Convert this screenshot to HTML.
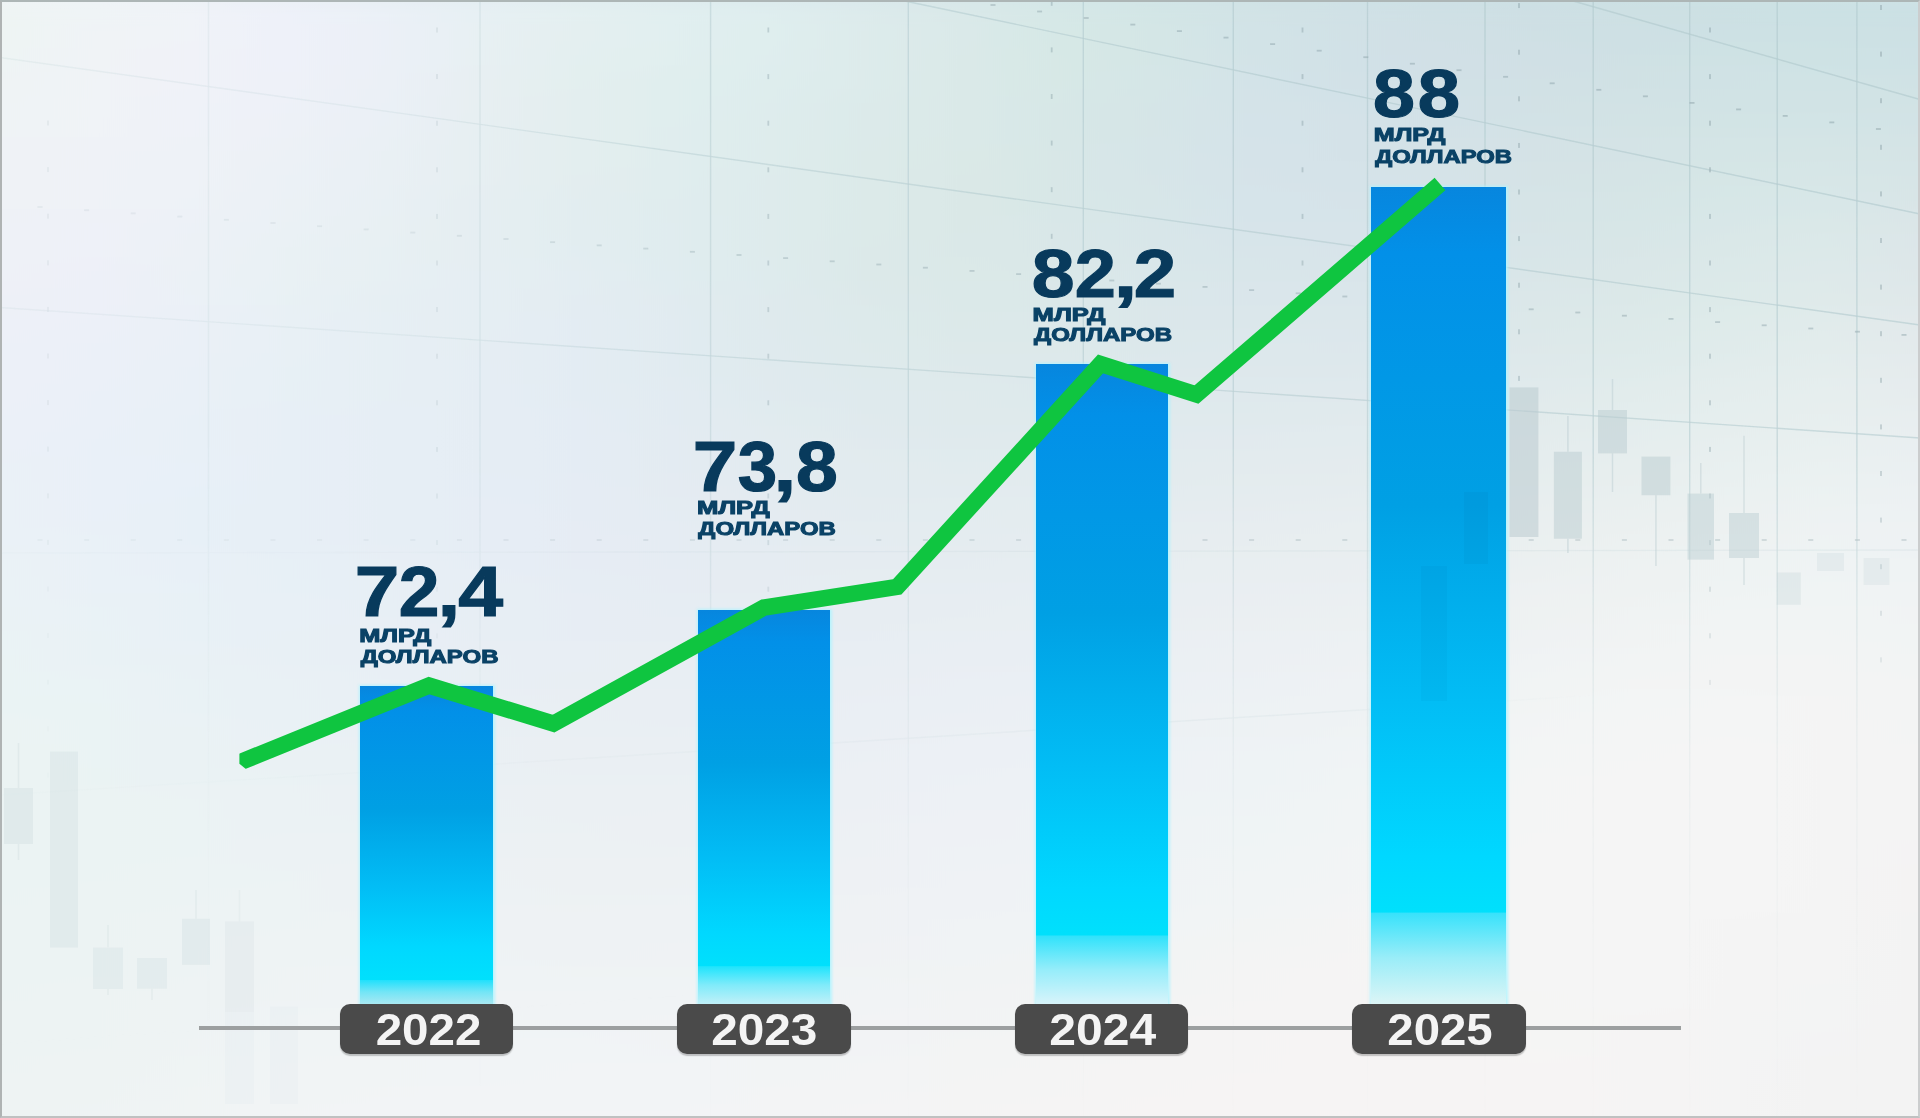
<!DOCTYPE html>
<html><head><meta charset="utf-8"><style>
html,body{margin:0;padding:0;}
body{width:1920px;height:1118px;overflow:hidden;position:relative;font-family:"Liberation Sans",sans-serif;
background:
 radial-gradient(ellipse 1650px 640px at 1520px -50px, rgba(199,223,226,0.98) 0%, rgba(199,223,226,0.55) 45%, rgba(199,223,226,0) 100%),
 radial-gradient(ellipse 650px 420px at 120px 40px, rgba(246,247,251,0.85) 0%, rgba(246,247,251,0) 100%),
 radial-gradient(ellipse 700px 400px at 1800px 1000px, rgba(246,246,246,0.7) 0%, rgba(246,246,246,0) 100%),
 linear-gradient(to bottom, #eef2f7 0%, #e9f0f6 45%, #ecf1f4 72%, #f2f4f5 90%, #f3f4f5 100%);
}
.bar{position:absolute;}
.pill{position:absolute;top:1003.5px;height:50px;background:#4a4a4a;border-radius:10px;box-shadow:0 1.5px 1.2px rgba(0,0,0,0.22);}
svg{position:absolute;left:0;top:0;}
.frame{position:absolute;left:0;top:0;width:1920px;height:1118px;box-sizing:border-box;
border-style:solid;border-width:2px;border-color:#adb6b6 #cbcdce #bfc1c1 #afb3b3;}
</style></head><body>

<svg width="1920" height="1118" viewBox="0 0 1920 1118"><filter id="vb" x="0" y="-0.1" width="1" height="1.2"><feGaussianBlur stdDeviation="0 10"/></filter><g filter="url(#vb)"><defs><linearGradient id="r0" gradientUnits="userSpaceOnUse" x1="0" y1="0" x2="1920" y2="0"><stop offset="0.000" stop-color="#eef4f3"/><stop offset="0.050" stop-color="#eff4f6"/><stop offset="0.100" stop-color="#f0f3f8"/><stop offset="0.150" stop-color="#eef1f9"/><stop offset="0.200" stop-color="#ebf1f7"/><stop offset="0.250" stop-color="#e7f0f4"/><stop offset="0.300" stop-color="#e4f0f1"/><stop offset="0.350" stop-color="#e1eff0"/><stop offset="0.400" stop-color="#dfeeef"/><stop offset="0.450" stop-color="#ddebec"/><stop offset="0.500" stop-color="#dae9e9"/><stop offset="0.550" stop-color="#d6e8e7"/><stop offset="0.600" stop-color="#d3e6e6"/><stop offset="0.650" stop-color="#d2e3e6"/><stop offset="0.700" stop-color="#d0e1e6"/><stop offset="0.750" stop-color="#cfe0e5"/><stop offset="0.800" stop-color="#cedfe4"/><stop offset="0.850" stop-color="#cde0e3"/><stop offset="0.900" stop-color="#cce0e3"/><stop offset="0.950" stop-color="#cbe1e4"/><stop offset="1.000" stop-color="#cbe0e4"/></linearGradient><linearGradient id="r1" gradientUnits="userSpaceOnUse" x1="0" y1="0" x2="1920" y2="0"><stop offset="0.000" stop-color="#eef4f3"/><stop offset="0.050" stop-color="#f0f3f6"/><stop offset="0.100" stop-color="#f0f3f8"/><stop offset="0.150" stop-color="#eef1f9"/><stop offset="0.200" stop-color="#ebf0f7"/><stop offset="0.250" stop-color="#e7f0f3"/><stop offset="0.300" stop-color="#e4eff0"/><stop offset="0.350" stop-color="#e1eff0"/><stop offset="0.400" stop-color="#dfeeee"/><stop offset="0.450" stop-color="#ddebeb"/><stop offset="0.500" stop-color="#dae9e9"/><stop offset="0.550" stop-color="#d6e8e6"/><stop offset="0.600" stop-color="#d4e6e6"/><stop offset="0.650" stop-color="#d2e3e7"/><stop offset="0.700" stop-color="#d1e1e6"/><stop offset="0.750" stop-color="#d0e0e5"/><stop offset="0.800" stop-color="#cfe0e4"/><stop offset="0.850" stop-color="#cee0e4"/><stop offset="0.900" stop-color="#cde1e4"/><stop offset="0.950" stop-color="#cde1e4"/><stop offset="1.000" stop-color="#cde1e4"/></linearGradient><linearGradient id="r2" gradientUnits="userSpaceOnUse" x1="0" y1="0" x2="1920" y2="0"><stop offset="0.000" stop-color="#eef4f4"/><stop offset="0.050" stop-color="#f0f3f6"/><stop offset="0.100" stop-color="#f0f2f8"/><stop offset="0.150" stop-color="#eef1f9"/><stop offset="0.200" stop-color="#ebf0f7"/><stop offset="0.250" stop-color="#e7f0f3"/><stop offset="0.300" stop-color="#e3eff0"/><stop offset="0.350" stop-color="#e1efef"/><stop offset="0.400" stop-color="#dfedee"/><stop offset="0.450" stop-color="#ddebeb"/><stop offset="0.500" stop-color="#dae9e8"/><stop offset="0.550" stop-color="#d7e8e6"/><stop offset="0.600" stop-color="#d4e6e6"/><stop offset="0.650" stop-color="#d3e3e7"/><stop offset="0.700" stop-color="#d1e1e7"/><stop offset="0.750" stop-color="#d1e0e6"/><stop offset="0.800" stop-color="#d0e0e5"/><stop offset="0.850" stop-color="#cfe1e4"/><stop offset="0.900" stop-color="#cfe2e4"/><stop offset="0.950" stop-color="#cee2e4"/><stop offset="1.000" stop-color="#cee1e5"/></linearGradient><linearGradient id="r3" gradientUnits="userSpaceOnUse" x1="0" y1="0" x2="1920" y2="0"><stop offset="0.000" stop-color="#eff3f4"/><stop offset="0.050" stop-color="#f0f3f7"/><stop offset="0.100" stop-color="#f0f2f8"/><stop offset="0.150" stop-color="#eef1f8"/><stop offset="0.200" stop-color="#ebf0f6"/><stop offset="0.250" stop-color="#e7eff2"/><stop offset="0.300" stop-color="#e3efef"/><stop offset="0.350" stop-color="#e0eeee"/><stop offset="0.400" stop-color="#deeded"/><stop offset="0.450" stop-color="#ddebeb"/><stop offset="0.500" stop-color="#dae9e8"/><stop offset="0.550" stop-color="#d7e8e6"/><stop offset="0.600" stop-color="#d5e6e7"/><stop offset="0.650" stop-color="#d3e3e8"/><stop offset="0.700" stop-color="#d2e1e7"/><stop offset="0.750" stop-color="#d1e1e6"/><stop offset="0.800" stop-color="#d1e1e5"/><stop offset="0.850" stop-color="#d0e1e4"/><stop offset="0.900" stop-color="#d0e2e5"/><stop offset="0.950" stop-color="#d0e3e5"/><stop offset="1.000" stop-color="#d0e2e5"/></linearGradient><linearGradient id="r4" gradientUnits="userSpaceOnUse" x1="0" y1="0" x2="1920" y2="0"><stop offset="0.000" stop-color="#eff3f5"/><stop offset="0.050" stop-color="#f0f3f7"/><stop offset="0.100" stop-color="#eff2f8"/><stop offset="0.150" stop-color="#edf1f8"/><stop offset="0.200" stop-color="#eaf0f6"/><stop offset="0.250" stop-color="#e7eff2"/><stop offset="0.300" stop-color="#e3eeef"/><stop offset="0.350" stop-color="#e0eeee"/><stop offset="0.400" stop-color="#deeced"/><stop offset="0.450" stop-color="#dceaea"/><stop offset="0.500" stop-color="#dae9e8"/><stop offset="0.550" stop-color="#d7e7e7"/><stop offset="0.600" stop-color="#d5e5e7"/><stop offset="0.650" stop-color="#d4e3e8"/><stop offset="0.700" stop-color="#d3e2e8"/><stop offset="0.750" stop-color="#d2e1e7"/><stop offset="0.800" stop-color="#d2e1e5"/><stop offset="0.850" stop-color="#d2e2e5"/><stop offset="0.900" stop-color="#d1e3e5"/><stop offset="0.950" stop-color="#d1e3e5"/><stop offset="1.000" stop-color="#d2e3e5"/></linearGradient><linearGradient id="r5" gradientUnits="userSpaceOnUse" x1="0" y1="0" x2="1920" y2="0"><stop offset="0.000" stop-color="#eff3f5"/><stop offset="0.050" stop-color="#f0f3f7"/><stop offset="0.100" stop-color="#eff2f8"/><stop offset="0.150" stop-color="#edf1f7"/><stop offset="0.200" stop-color="#eaf0f5"/><stop offset="0.250" stop-color="#e6eff2"/><stop offset="0.300" stop-color="#e3eeef"/><stop offset="0.350" stop-color="#e0edee"/><stop offset="0.400" stop-color="#deecec"/><stop offset="0.450" stop-color="#dceaea"/><stop offset="0.500" stop-color="#dae9e8"/><stop offset="0.550" stop-color="#d7e7e7"/><stop offset="0.600" stop-color="#d6e5e7"/><stop offset="0.650" stop-color="#d4e3e9"/><stop offset="0.700" stop-color="#d4e2e8"/><stop offset="0.750" stop-color="#d3e1e7"/><stop offset="0.800" stop-color="#d3e2e6"/><stop offset="0.850" stop-color="#d3e3e5"/><stop offset="0.900" stop-color="#d3e4e5"/><stop offset="0.950" stop-color="#d3e4e6"/><stop offset="1.000" stop-color="#d3e3e6"/></linearGradient><linearGradient id="r6" gradientUnits="userSpaceOnUse" x1="0" y1="0" x2="1920" y2="0"><stop offset="0.000" stop-color="#eff2f6"/><stop offset="0.050" stop-color="#eff2f7"/><stop offset="0.100" stop-color="#eef2f7"/><stop offset="0.150" stop-color="#ecf1f6"/><stop offset="0.200" stop-color="#e9f0f4"/><stop offset="0.250" stop-color="#e6eff2"/><stop offset="0.300" stop-color="#e3eeef"/><stop offset="0.350" stop-color="#e0edee"/><stop offset="0.400" stop-color="#deecec"/><stop offset="0.450" stop-color="#dceae9"/><stop offset="0.500" stop-color="#dae9e7"/><stop offset="0.550" stop-color="#d8e7e7"/><stop offset="0.600" stop-color="#d6e5e8"/><stop offset="0.650" stop-color="#d5e3e9"/><stop offset="0.700" stop-color="#d4e2e8"/><stop offset="0.750" stop-color="#d4e2e7"/><stop offset="0.800" stop-color="#d4e2e6"/><stop offset="0.850" stop-color="#d4e3e6"/><stop offset="0.900" stop-color="#d4e5e6"/><stop offset="0.950" stop-color="#d5e5e6"/><stop offset="1.000" stop-color="#d5e4e6"/></linearGradient><linearGradient id="r7" gradientUnits="userSpaceOnUse" x1="0" y1="0" x2="1920" y2="0"><stop offset="0.000" stop-color="#eff2f6"/><stop offset="0.050" stop-color="#eff2f7"/><stop offset="0.100" stop-color="#eef2f7"/><stop offset="0.150" stop-color="#ebf1f6"/><stop offset="0.200" stop-color="#e9f0f4"/><stop offset="0.250" stop-color="#e6eff2"/><stop offset="0.300" stop-color="#e3edef"/><stop offset="0.350" stop-color="#e0edee"/><stop offset="0.400" stop-color="#deebec"/><stop offset="0.450" stop-color="#dceae9"/><stop offset="0.500" stop-color="#dae8e7"/><stop offset="0.550" stop-color="#d8e7e7"/><stop offset="0.600" stop-color="#d7e5e8"/><stop offset="0.650" stop-color="#d6e3e9"/><stop offset="0.700" stop-color="#d5e3e9"/><stop offset="0.750" stop-color="#d5e3e8"/><stop offset="0.800" stop-color="#d5e3e6"/><stop offset="0.850" stop-color="#d5e4e6"/><stop offset="0.900" stop-color="#d6e6e6"/><stop offset="0.950" stop-color="#d7e6e7"/><stop offset="1.000" stop-color="#d7e5e7"/></linearGradient><linearGradient id="r8" gradientUnits="userSpaceOnUse" x1="0" y1="0" x2="1920" y2="0"><stop offset="0.000" stop-color="#eff2f6"/><stop offset="0.050" stop-color="#eff2f7"/><stop offset="0.100" stop-color="#edf2f7"/><stop offset="0.150" stop-color="#ebf1f5"/><stop offset="0.200" stop-color="#e8f0f4"/><stop offset="0.250" stop-color="#e5eef2"/><stop offset="0.300" stop-color="#e2edf0"/><stop offset="0.350" stop-color="#e0ecee"/><stop offset="0.400" stop-color="#deebec"/><stop offset="0.450" stop-color="#dceae9"/><stop offset="0.500" stop-color="#dae8e7"/><stop offset="0.550" stop-color="#d8e7e7"/><stop offset="0.600" stop-color="#d7e6e8"/><stop offset="0.650" stop-color="#d6e4ea"/><stop offset="0.700" stop-color="#d6e3e9"/><stop offset="0.750" stop-color="#d6e3e8"/><stop offset="0.800" stop-color="#d6e4e7"/><stop offset="0.850" stop-color="#d6e5e6"/><stop offset="0.900" stop-color="#d7e7e7"/><stop offset="0.950" stop-color="#d8e7e8"/><stop offset="1.000" stop-color="#d9e5e7"/></linearGradient><linearGradient id="r9" gradientUnits="userSpaceOnUse" x1="0" y1="0" x2="1920" y2="0"><stop offset="0.000" stop-color="#eef1f7"/><stop offset="0.050" stop-color="#eef1f8"/><stop offset="0.100" stop-color="#ecf1f7"/><stop offset="0.150" stop-color="#eaf1f5"/><stop offset="0.200" stop-color="#e8f0f3"/><stop offset="0.250" stop-color="#e5eef2"/><stop offset="0.300" stop-color="#e2edf0"/><stop offset="0.350" stop-color="#e0ecef"/><stop offset="0.400" stop-color="#deebec"/><stop offset="0.450" stop-color="#dceae9"/><stop offset="0.500" stop-color="#dae8e7"/><stop offset="0.550" stop-color="#d9e7e8"/><stop offset="0.600" stop-color="#d8e6e9"/><stop offset="0.650" stop-color="#d7e4ea"/><stop offset="0.700" stop-color="#d7e4ea"/><stop offset="0.750" stop-color="#d7e4e8"/><stop offset="0.800" stop-color="#d7e4e7"/><stop offset="0.850" stop-color="#d7e6e7"/><stop offset="0.900" stop-color="#d9e7e8"/><stop offset="0.950" stop-color="#dae8e8"/><stop offset="1.000" stop-color="#dbe6e8"/></linearGradient><linearGradient id="r10" gradientUnits="userSpaceOnUse" x1="0" y1="0" x2="1920" y2="0"><stop offset="0.000" stop-color="#eef1f7"/><stop offset="0.050" stop-color="#eef1f8"/><stop offset="0.100" stop-color="#ecf1f6"/><stop offset="0.150" stop-color="#e9f1f4"/><stop offset="0.200" stop-color="#e7f0f3"/><stop offset="0.250" stop-color="#e5eef2"/><stop offset="0.300" stop-color="#e2edf1"/><stop offset="0.350" stop-color="#e0ecef"/><stop offset="0.400" stop-color="#deebec"/><stop offset="0.450" stop-color="#dce9e9"/><stop offset="0.500" stop-color="#dae8e8"/><stop offset="0.550" stop-color="#d9e7e8"/><stop offset="0.600" stop-color="#d9e6e9"/><stop offset="0.650" stop-color="#d8e5ea"/><stop offset="0.700" stop-color="#d8e4ea"/><stop offset="0.750" stop-color="#d8e5e9"/><stop offset="0.800" stop-color="#d8e5e8"/><stop offset="0.850" stop-color="#d9e6e7"/><stop offset="0.900" stop-color="#dae8e8"/><stop offset="0.950" stop-color="#dce9e9"/><stop offset="1.000" stop-color="#dde6e9"/></linearGradient><linearGradient id="r11" gradientUnits="userSpaceOnUse" x1="0" y1="0" x2="1920" y2="0"><stop offset="0.000" stop-color="#eef1f7"/><stop offset="0.050" stop-color="#edf0f8"/><stop offset="0.100" stop-color="#ebf1f6"/><stop offset="0.150" stop-color="#e9f1f4"/><stop offset="0.200" stop-color="#e7f0f3"/><stop offset="0.250" stop-color="#e5eef3"/><stop offset="0.300" stop-color="#e3edf2"/><stop offset="0.350" stop-color="#e0ecf0"/><stop offset="0.400" stop-color="#deebed"/><stop offset="0.450" stop-color="#dce9e9"/><stop offset="0.500" stop-color="#dbe9e8"/><stop offset="0.550" stop-color="#dae8e8"/><stop offset="0.600" stop-color="#d9e7ea"/><stop offset="0.650" stop-color="#d9e6ea"/><stop offset="0.700" stop-color="#d9e5ea"/><stop offset="0.750" stop-color="#d9e5e9"/><stop offset="0.800" stop-color="#d9e6e8"/><stop offset="0.850" stop-color="#dae7e8"/><stop offset="0.900" stop-color="#dce9e9"/><stop offset="0.950" stop-color="#dee9ea"/><stop offset="1.000" stop-color="#dee7e9"/></linearGradient><linearGradient id="r12" gradientUnits="userSpaceOnUse" x1="0" y1="0" x2="1920" y2="0"><stop offset="0.000" stop-color="#edf0f7"/><stop offset="0.050" stop-color="#edf0f8"/><stop offset="0.100" stop-color="#ebf1f7"/><stop offset="0.150" stop-color="#e8f1f4"/><stop offset="0.200" stop-color="#e6eff3"/><stop offset="0.250" stop-color="#e5eef3"/><stop offset="0.300" stop-color="#e3ecf2"/><stop offset="0.350" stop-color="#e1ebf0"/><stop offset="0.400" stop-color="#dfeaed"/><stop offset="0.450" stop-color="#dde9ea"/><stop offset="0.500" stop-color="#dbe9e9"/><stop offset="0.550" stop-color="#dbe8e9"/><stop offset="0.600" stop-color="#dae7ea"/><stop offset="0.650" stop-color="#dae6eb"/><stop offset="0.700" stop-color="#dae6eb"/><stop offset="0.750" stop-color="#dbe6ea"/><stop offset="0.800" stop-color="#dbe7e9"/><stop offset="0.850" stop-color="#dbe8e8"/><stop offset="0.900" stop-color="#ddeae9"/><stop offset="0.950" stop-color="#dfeaea"/><stop offset="1.000" stop-color="#e0e8ea"/></linearGradient><linearGradient id="r13" gradientUnits="userSpaceOnUse" x1="0" y1="0" x2="1920" y2="0"><stop offset="0.000" stop-color="#edf0f8"/><stop offset="0.050" stop-color="#ecf0f8"/><stop offset="0.100" stop-color="#eaf0f7"/><stop offset="0.150" stop-color="#e8f0f5"/><stop offset="0.200" stop-color="#e6eff4"/><stop offset="0.250" stop-color="#e5eef3"/><stop offset="0.300" stop-color="#e3ecf3"/><stop offset="0.350" stop-color="#e1ebf1"/><stop offset="0.400" stop-color="#dfeaed"/><stop offset="0.450" stop-color="#ddeaeb"/><stop offset="0.500" stop-color="#dce9e9"/><stop offset="0.550" stop-color="#dce8ea"/><stop offset="0.600" stop-color="#dbe7ea"/><stop offset="0.650" stop-color="#dbe7eb"/><stop offset="0.700" stop-color="#dce7eb"/><stop offset="0.750" stop-color="#dce7ea"/><stop offset="0.800" stop-color="#dce8e9"/><stop offset="0.850" stop-color="#dde9e9"/><stop offset="0.900" stop-color="#dfebea"/><stop offset="0.950" stop-color="#e1ebeb"/><stop offset="1.000" stop-color="#e2e9eb"/></linearGradient><linearGradient id="r14" gradientUnits="userSpaceOnUse" x1="0" y1="0" x2="1920" y2="0"><stop offset="0.000" stop-color="#ecf0f8"/><stop offset="0.050" stop-color="#ebf0f8"/><stop offset="0.100" stop-color="#eaf0f7"/><stop offset="0.150" stop-color="#e8f0f5"/><stop offset="0.200" stop-color="#e6eff4"/><stop offset="0.250" stop-color="#e5edf3"/><stop offset="0.300" stop-color="#e3ecf3"/><stop offset="0.350" stop-color="#e1ebf1"/><stop offset="0.400" stop-color="#dfeaee"/><stop offset="0.450" stop-color="#deeaeb"/><stop offset="0.500" stop-color="#dde9ea"/><stop offset="0.550" stop-color="#dde9ea"/><stop offset="0.600" stop-color="#dce8eb"/><stop offset="0.650" stop-color="#dde8ec"/><stop offset="0.700" stop-color="#dde7ec"/><stop offset="0.750" stop-color="#dde8eb"/><stop offset="0.800" stop-color="#dee8ea"/><stop offset="0.850" stop-color="#deeaea"/><stop offset="0.900" stop-color="#e0ebeb"/><stop offset="0.950" stop-color="#e2ecec"/><stop offset="1.000" stop-color="#e3eaec"/></linearGradient><linearGradient id="r15" gradientUnits="userSpaceOnUse" x1="0" y1="0" x2="1920" y2="0"><stop offset="0.000" stop-color="#ecf0f8"/><stop offset="0.050" stop-color="#ebf0f8"/><stop offset="0.100" stop-color="#e9f0f7"/><stop offset="0.150" stop-color="#e7f0f5"/><stop offset="0.200" stop-color="#e6eff4"/><stop offset="0.250" stop-color="#e5edf4"/><stop offset="0.300" stop-color="#e3ecf3"/><stop offset="0.350" stop-color="#e1ebf1"/><stop offset="0.400" stop-color="#e0eaee"/><stop offset="0.450" stop-color="#deeaec"/><stop offset="0.500" stop-color="#dee9eb"/><stop offset="0.550" stop-color="#dde9eb"/><stop offset="0.600" stop-color="#dee8ec"/><stop offset="0.650" stop-color="#dee8ec"/><stop offset="0.700" stop-color="#dee8ec"/><stop offset="0.750" stop-color="#dfe9ec"/><stop offset="0.800" stop-color="#dfe9eb"/><stop offset="0.850" stop-color="#e0ebeb"/><stop offset="0.900" stop-color="#e2ecec"/><stop offset="0.950" stop-color="#e4eded"/><stop offset="1.000" stop-color="#e5ebed"/></linearGradient><linearGradient id="r16" gradientUnits="userSpaceOnUse" x1="0" y1="0" x2="1920" y2="0"><stop offset="0.000" stop-color="#ecf0f8"/><stop offset="0.050" stop-color="#eaf0f8"/><stop offset="0.100" stop-color="#e9f0f7"/><stop offset="0.150" stop-color="#e7f0f5"/><stop offset="0.200" stop-color="#e6eff4"/><stop offset="0.250" stop-color="#e5edf4"/><stop offset="0.300" stop-color="#e3ecf3"/><stop offset="0.350" stop-color="#e2ebf2"/><stop offset="0.400" stop-color="#e0eaef"/><stop offset="0.450" stop-color="#dfeaed"/><stop offset="0.500" stop-color="#dfeaec"/><stop offset="0.550" stop-color="#dee9ec"/><stop offset="0.600" stop-color="#dfe9ec"/><stop offset="0.650" stop-color="#dfe9ed"/><stop offset="0.700" stop-color="#e0e9ed"/><stop offset="0.750" stop-color="#e0e9ec"/><stop offset="0.800" stop-color="#e1eaec"/><stop offset="0.850" stop-color="#e2ecec"/><stop offset="0.900" stop-color="#e4eded"/><stop offset="0.950" stop-color="#e6eeee"/><stop offset="1.000" stop-color="#e6ecee"/></linearGradient><linearGradient id="r17" gradientUnits="userSpaceOnUse" x1="0" y1="0" x2="1920" y2="0"><stop offset="0.000" stop-color="#ebf0f8"/><stop offset="0.050" stop-color="#eaf0f8"/><stop offset="0.100" stop-color="#e8f0f7"/><stop offset="0.150" stop-color="#e7eff6"/><stop offset="0.200" stop-color="#e6eef5"/><stop offset="0.250" stop-color="#e5edf4"/><stop offset="0.300" stop-color="#e4ecf4"/><stop offset="0.350" stop-color="#e2ebf2"/><stop offset="0.400" stop-color="#e1ebef"/><stop offset="0.450" stop-color="#e0eaed"/><stop offset="0.500" stop-color="#dfeaec"/><stop offset="0.550" stop-color="#dfeaec"/><stop offset="0.600" stop-color="#e0eaed"/><stop offset="0.650" stop-color="#e0eaed"/><stop offset="0.700" stop-color="#e1eaed"/><stop offset="0.750" stop-color="#e2eaed"/><stop offset="0.800" stop-color="#e2ebec"/><stop offset="0.850" stop-color="#e3eded"/><stop offset="0.900" stop-color="#e5eeee"/><stop offset="0.950" stop-color="#e7efef"/><stop offset="1.000" stop-color="#e8eef0"/></linearGradient><linearGradient id="r18" gradientUnits="userSpaceOnUse" x1="0" y1="0" x2="1920" y2="0"><stop offset="0.000" stop-color="#ebf0f8"/><stop offset="0.050" stop-color="#e9f0f8"/><stop offset="0.100" stop-color="#e8f0f7"/><stop offset="0.150" stop-color="#e7eff6"/><stop offset="0.200" stop-color="#e6eef5"/><stop offset="0.250" stop-color="#e5edf4"/><stop offset="0.300" stop-color="#e4ecf4"/><stop offset="0.350" stop-color="#e3ebf2"/><stop offset="0.400" stop-color="#e2ebf0"/><stop offset="0.450" stop-color="#e1eaee"/><stop offset="0.500" stop-color="#e0eaed"/><stop offset="0.550" stop-color="#e1eaed"/><stop offset="0.600" stop-color="#e1eaee"/><stop offset="0.650" stop-color="#e2eaee"/><stop offset="0.700" stop-color="#e2ebee"/><stop offset="0.750" stop-color="#e3ebee"/><stop offset="0.800" stop-color="#e4eced"/><stop offset="0.850" stop-color="#e5edee"/><stop offset="0.900" stop-color="#e7efef"/><stop offset="0.950" stop-color="#e8f0f0"/><stop offset="1.000" stop-color="#e9eff1"/></linearGradient><linearGradient id="r19" gradientUnits="userSpaceOnUse" x1="0" y1="0" x2="1920" y2="0"><stop offset="0.000" stop-color="#eaf1f7"/><stop offset="0.050" stop-color="#e9f0f8"/><stop offset="0.100" stop-color="#e8f0f8"/><stop offset="0.150" stop-color="#e7eff6"/><stop offset="0.200" stop-color="#e6eef5"/><stop offset="0.250" stop-color="#e5edf4"/><stop offset="0.300" stop-color="#e4ecf4"/><stop offset="0.350" stop-color="#e3ebf2"/><stop offset="0.400" stop-color="#e2ebf0"/><stop offset="0.450" stop-color="#e2ebef"/><stop offset="0.500" stop-color="#e1ebee"/><stop offset="0.550" stop-color="#e2ebee"/><stop offset="0.600" stop-color="#e2ebee"/><stop offset="0.650" stop-color="#e3ebee"/><stop offset="0.700" stop-color="#e4ebee"/><stop offset="0.750" stop-color="#e5ecee"/><stop offset="0.800" stop-color="#e5edee"/><stop offset="0.850" stop-color="#e7eeee"/><stop offset="0.900" stop-color="#e8f0f0"/><stop offset="0.950" stop-color="#eaf1f1"/><stop offset="1.000" stop-color="#eaf0f2"/></linearGradient><linearGradient id="r20" gradientUnits="userSpaceOnUse" x1="0" y1="0" x2="1920" y2="0"><stop offset="0.000" stop-color="#eaf1f7"/><stop offset="0.050" stop-color="#e9f0f8"/><stop offset="0.100" stop-color="#e7f0f8"/><stop offset="0.150" stop-color="#e7eff6"/><stop offset="0.200" stop-color="#e6eef5"/><stop offset="0.250" stop-color="#e5edf5"/><stop offset="0.300" stop-color="#e5ecf4"/><stop offset="0.350" stop-color="#e4ebf2"/><stop offset="0.400" stop-color="#e3ebf1"/><stop offset="0.450" stop-color="#e2ebef"/><stop offset="0.500" stop-color="#e2ebef"/><stop offset="0.550" stop-color="#e3ebef"/><stop offset="0.600" stop-color="#e3ebef"/><stop offset="0.650" stop-color="#e4ecef"/><stop offset="0.700" stop-color="#e5ecef"/><stop offset="0.750" stop-color="#e6edef"/><stop offset="0.800" stop-color="#e7eeef"/><stop offset="0.850" stop-color="#e8efef"/><stop offset="0.900" stop-color="#eaf1f1"/><stop offset="0.950" stop-color="#ebf2f2"/><stop offset="1.000" stop-color="#ecf1f3"/></linearGradient><linearGradient id="r21" gradientUnits="userSpaceOnUse" x1="0" y1="0" x2="1920" y2="0"><stop offset="0.000" stop-color="#eaf1f7"/><stop offset="0.050" stop-color="#e9f0f8"/><stop offset="0.100" stop-color="#e7f0f7"/><stop offset="0.150" stop-color="#e7eff6"/><stop offset="0.200" stop-color="#e6eef5"/><stop offset="0.250" stop-color="#e6edf5"/><stop offset="0.300" stop-color="#e5ecf4"/><stop offset="0.350" stop-color="#e4ecf3"/><stop offset="0.400" stop-color="#e4ebf1"/><stop offset="0.450" stop-color="#e3ebf0"/><stop offset="0.500" stop-color="#e3ecf0"/><stop offset="0.550" stop-color="#e4ecef"/><stop offset="0.600" stop-color="#e5ecf0"/><stop offset="0.650" stop-color="#e6ecf0"/><stop offset="0.700" stop-color="#e7edf0"/><stop offset="0.750" stop-color="#e7eef0"/><stop offset="0.800" stop-color="#e9eff0"/><stop offset="0.850" stop-color="#eaf0f0"/><stop offset="0.900" stop-color="#ecf1f1"/><stop offset="0.950" stop-color="#edf2f3"/><stop offset="1.000" stop-color="#edf2f3"/></linearGradient><linearGradient id="r22" gradientUnits="userSpaceOnUse" x1="0" y1="0" x2="1920" y2="0"><stop offset="0.000" stop-color="#eaf1f7"/><stop offset="0.050" stop-color="#e9f1f7"/><stop offset="0.100" stop-color="#e7f0f7"/><stop offset="0.150" stop-color="#e7eff6"/><stop offset="0.200" stop-color="#e6eef5"/><stop offset="0.250" stop-color="#e6edf5"/><stop offset="0.300" stop-color="#e6ecf4"/><stop offset="0.350" stop-color="#e5ecf3"/><stop offset="0.400" stop-color="#e4ecf2"/><stop offset="0.450" stop-color="#e4ecf1"/><stop offset="0.500" stop-color="#e4ecf0"/><stop offset="0.550" stop-color="#e5ecf0"/><stop offset="0.600" stop-color="#e6edf0"/><stop offset="0.650" stop-color="#e7edf0"/><stop offset="0.700" stop-color="#e8eef0"/><stop offset="0.750" stop-color="#e9eff0"/><stop offset="0.800" stop-color="#eaf0f0"/><stop offset="0.850" stop-color="#ecf1f1"/><stop offset="0.900" stop-color="#edf2f2"/><stop offset="0.950" stop-color="#eef3f3"/><stop offset="1.000" stop-color="#eef2f4"/></linearGradient><linearGradient id="r23" gradientUnits="userSpaceOnUse" x1="0" y1="0" x2="1920" y2="0"><stop offset="0.000" stop-color="#eaf2f6"/><stop offset="0.050" stop-color="#e9f1f7"/><stop offset="0.100" stop-color="#e8f0f7"/><stop offset="0.150" stop-color="#e7f0f6"/><stop offset="0.200" stop-color="#e7eff5"/><stop offset="0.250" stop-color="#e6edf5"/><stop offset="0.300" stop-color="#e6ecf4"/><stop offset="0.350" stop-color="#e5ecf3"/><stop offset="0.400" stop-color="#e5ecf2"/><stop offset="0.450" stop-color="#e5ecf1"/><stop offset="0.500" stop-color="#e5ecf1"/><stop offset="0.550" stop-color="#e6edf1"/><stop offset="0.600" stop-color="#e7edf1"/><stop offset="0.650" stop-color="#e8eef1"/><stop offset="0.700" stop-color="#e9eef1"/><stop offset="0.750" stop-color="#eaeff1"/><stop offset="0.800" stop-color="#ebf0f1"/><stop offset="0.850" stop-color="#edf2f2"/><stop offset="0.900" stop-color="#eef3f3"/><stop offset="0.950" stop-color="#eff3f4"/><stop offset="1.000" stop-color="#eff3f4"/></linearGradient><linearGradient id="r24" gradientUnits="userSpaceOnUse" x1="0" y1="0" x2="1920" y2="0"><stop offset="0.000" stop-color="#eaf2f6"/><stop offset="0.050" stop-color="#e9f1f7"/><stop offset="0.100" stop-color="#e8f1f7"/><stop offset="0.150" stop-color="#e7f0f6"/><stop offset="0.200" stop-color="#e7eff5"/><stop offset="0.250" stop-color="#e7eef4"/><stop offset="0.300" stop-color="#e6edf4"/><stop offset="0.350" stop-color="#e6ecf3"/><stop offset="0.400" stop-color="#e6ecf2"/><stop offset="0.450" stop-color="#e6edf2"/><stop offset="0.500" stop-color="#e6edf2"/><stop offset="0.550" stop-color="#e7edf2"/><stop offset="0.600" stop-color="#e8eef2"/><stop offset="0.650" stop-color="#e9eef2"/><stop offset="0.700" stop-color="#eaeff2"/><stop offset="0.750" stop-color="#ebf0f2"/><stop offset="0.800" stop-color="#edf1f2"/><stop offset="0.850" stop-color="#eef2f2"/><stop offset="0.900" stop-color="#eff3f3"/><stop offset="0.950" stop-color="#f0f4f4"/><stop offset="1.000" stop-color="#f0f3f4"/></linearGradient><linearGradient id="r25" gradientUnits="userSpaceOnUse" x1="0" y1="0" x2="1920" y2="0"><stop offset="0.000" stop-color="#eaf2f5"/><stop offset="0.050" stop-color="#e9f2f6"/><stop offset="0.100" stop-color="#e8f1f6"/><stop offset="0.150" stop-color="#e8f0f6"/><stop offset="0.200" stop-color="#e7eff5"/><stop offset="0.250" stop-color="#e7eef4"/><stop offset="0.300" stop-color="#e7edf4"/><stop offset="0.350" stop-color="#e6edf3"/><stop offset="0.400" stop-color="#e6edf3"/><stop offset="0.450" stop-color="#e7edf2"/><stop offset="0.500" stop-color="#e7edf2"/><stop offset="0.550" stop-color="#e8eef2"/><stop offset="0.600" stop-color="#e9eef2"/><stop offset="0.650" stop-color="#eaeff2"/><stop offset="0.700" stop-color="#ebf0f2"/><stop offset="0.750" stop-color="#edf1f2"/><stop offset="0.800" stop-color="#eef2f2"/><stop offset="0.850" stop-color="#f0f3f3"/><stop offset="0.900" stop-color="#f1f4f4"/><stop offset="0.950" stop-color="#f1f4f4"/><stop offset="1.000" stop-color="#f1f3f4"/></linearGradient><linearGradient id="r26" gradientUnits="userSpaceOnUse" x1="0" y1="0" x2="1920" y2="0"><stop offset="0.000" stop-color="#eaf3f5"/><stop offset="0.050" stop-color="#e9f2f5"/><stop offset="0.100" stop-color="#e8f1f6"/><stop offset="0.150" stop-color="#e8f0f5"/><stop offset="0.200" stop-color="#e8eff5"/><stop offset="0.250" stop-color="#e7eef4"/><stop offset="0.300" stop-color="#e7edf4"/><stop offset="0.350" stop-color="#e7edf3"/><stop offset="0.400" stop-color="#e7edf3"/><stop offset="0.450" stop-color="#e7edf3"/><stop offset="0.500" stop-color="#e8eef3"/><stop offset="0.550" stop-color="#e9eef3"/><stop offset="0.600" stop-color="#eaeff3"/><stop offset="0.650" stop-color="#ebf0f3"/><stop offset="0.700" stop-color="#ecf1f3"/><stop offset="0.750" stop-color="#eef1f3"/><stop offset="0.800" stop-color="#eff2f3"/><stop offset="0.850" stop-color="#f1f3f3"/><stop offset="0.900" stop-color="#f2f4f4"/><stop offset="0.950" stop-color="#f2f4f4"/><stop offset="1.000" stop-color="#f1f4f4"/></linearGradient><linearGradient id="r27" gradientUnits="userSpaceOnUse" x1="0" y1="0" x2="1920" y2="0"><stop offset="0.000" stop-color="#eaf3f4"/><stop offset="0.050" stop-color="#e9f2f5"/><stop offset="0.100" stop-color="#e9f1f5"/><stop offset="0.150" stop-color="#e8f0f5"/><stop offset="0.200" stop-color="#e8eff5"/><stop offset="0.250" stop-color="#e8eff4"/><stop offset="0.300" stop-color="#e8eef4"/><stop offset="0.350" stop-color="#e8eef3"/><stop offset="0.400" stop-color="#e8eef3"/><stop offset="0.450" stop-color="#e8eef3"/><stop offset="0.500" stop-color="#e9eef3"/><stop offset="0.550" stop-color="#e9eff3"/><stop offset="0.600" stop-color="#eaf0f3"/><stop offset="0.650" stop-color="#ecf0f3"/><stop offset="0.700" stop-color="#edf1f3"/><stop offset="0.750" stop-color="#eff2f3"/><stop offset="0.800" stop-color="#f0f3f4"/><stop offset="0.850" stop-color="#f2f4f4"/><stop offset="0.900" stop-color="#f3f4f4"/><stop offset="0.950" stop-color="#f3f4f4"/><stop offset="1.000" stop-color="#f2f4f4"/></linearGradient><linearGradient id="r28" gradientUnits="userSpaceOnUse" x1="0" y1="0" x2="1920" y2="0"><stop offset="0.000" stop-color="#eaf3f4"/><stop offset="0.050" stop-color="#eaf3f5"/><stop offset="0.100" stop-color="#e9f2f5"/><stop offset="0.150" stop-color="#e9f1f5"/><stop offset="0.200" stop-color="#e8f0f5"/><stop offset="0.250" stop-color="#e8eff4"/><stop offset="0.300" stop-color="#e8eef3"/><stop offset="0.350" stop-color="#e8eef3"/><stop offset="0.400" stop-color="#e8eef3"/><stop offset="0.450" stop-color="#e9eef3"/><stop offset="0.500" stop-color="#eaeff4"/><stop offset="0.550" stop-color="#eaeff4"/><stop offset="0.600" stop-color="#ebf0f4"/><stop offset="0.650" stop-color="#ecf1f4"/><stop offset="0.700" stop-color="#eef2f4"/><stop offset="0.750" stop-color="#eff3f4"/><stop offset="0.800" stop-color="#f1f4f4"/><stop offset="0.850" stop-color="#f3f4f4"/><stop offset="0.900" stop-color="#f3f4f4"/><stop offset="0.950" stop-color="#f3f4f4"/><stop offset="1.000" stop-color="#f3f4f4"/></linearGradient><linearGradient id="r29" gradientUnits="userSpaceOnUse" x1="0" y1="0" x2="1920" y2="0"><stop offset="0.000" stop-color="#eaf3f4"/><stop offset="0.050" stop-color="#eaf3f4"/><stop offset="0.100" stop-color="#e9f2f5"/><stop offset="0.150" stop-color="#e9f1f5"/><stop offset="0.200" stop-color="#e9f0f4"/><stop offset="0.250" stop-color="#e9eff4"/><stop offset="0.300" stop-color="#e9eff3"/><stop offset="0.350" stop-color="#e9eef3"/><stop offset="0.400" stop-color="#e9eef3"/><stop offset="0.450" stop-color="#eaeff4"/><stop offset="0.500" stop-color="#eaeff4"/><stop offset="0.550" stop-color="#ebf0f4"/><stop offset="0.600" stop-color="#ecf1f4"/><stop offset="0.650" stop-color="#edf2f4"/><stop offset="0.700" stop-color="#eef2f4"/><stop offset="0.750" stop-color="#f0f3f4"/><stop offset="0.800" stop-color="#f2f4f4"/><stop offset="0.850" stop-color="#f3f5f5"/><stop offset="0.900" stop-color="#f4f5f5"/><stop offset="0.950" stop-color="#f4f4f4"/><stop offset="1.000" stop-color="#f3f4f4"/></linearGradient><linearGradient id="r30" gradientUnits="userSpaceOnUse" x1="0" y1="0" x2="1920" y2="0"><stop offset="0.000" stop-color="#ebf3f3"/><stop offset="0.050" stop-color="#eaf3f4"/><stop offset="0.100" stop-color="#eaf2f4"/><stop offset="0.150" stop-color="#e9f1f5"/><stop offset="0.200" stop-color="#e9f0f4"/><stop offset="0.250" stop-color="#e9f0f4"/><stop offset="0.300" stop-color="#e9eff3"/><stop offset="0.350" stop-color="#e9eff3"/><stop offset="0.400" stop-color="#eaeff3"/><stop offset="0.450" stop-color="#eaeff4"/><stop offset="0.500" stop-color="#ebf0f4"/><stop offset="0.550" stop-color="#ecf0f4"/><stop offset="0.600" stop-color="#ecf1f4"/><stop offset="0.650" stop-color="#edf2f4"/><stop offset="0.700" stop-color="#eff3f4"/><stop offset="0.750" stop-color="#f1f4f4"/><stop offset="0.800" stop-color="#f3f4f5"/><stop offset="0.850" stop-color="#f4f5f5"/><stop offset="0.900" stop-color="#f4f5f5"/><stop offset="0.950" stop-color="#f4f4f4"/><stop offset="1.000" stop-color="#f3f4f4"/></linearGradient><linearGradient id="r31" gradientUnits="userSpaceOnUse" x1="0" y1="0" x2="1920" y2="0"><stop offset="0.000" stop-color="#ebf3f3"/><stop offset="0.050" stop-color="#eaf3f4"/><stop offset="0.100" stop-color="#eaf2f4"/><stop offset="0.150" stop-color="#eaf1f4"/><stop offset="0.200" stop-color="#eaf1f4"/><stop offset="0.250" stop-color="#eaf0f4"/><stop offset="0.300" stop-color="#eaeff3"/><stop offset="0.350" stop-color="#eaeff3"/><stop offset="0.400" stop-color="#eaeff4"/><stop offset="0.450" stop-color="#ebf0f4"/><stop offset="0.500" stop-color="#ecf0f5"/><stop offset="0.550" stop-color="#ecf1f5"/><stop offset="0.600" stop-color="#edf2f5"/><stop offset="0.650" stop-color="#eef3f5"/><stop offset="0.700" stop-color="#f0f3f5"/><stop offset="0.750" stop-color="#f1f4f5"/><stop offset="0.800" stop-color="#f3f5f5"/><stop offset="0.850" stop-color="#f4f5f5"/><stop offset="0.900" stop-color="#f5f5f5"/><stop offset="0.950" stop-color="#f4f4f4"/><stop offset="1.000" stop-color="#f4f4f4"/></linearGradient><linearGradient id="r32" gradientUnits="userSpaceOnUse" x1="0" y1="0" x2="1920" y2="0"><stop offset="0.000" stop-color="#ebf3f3"/><stop offset="0.050" stop-color="#eaf3f3"/><stop offset="0.100" stop-color="#eaf2f4"/><stop offset="0.150" stop-color="#eaf2f4"/><stop offset="0.200" stop-color="#eaf1f4"/><stop offset="0.250" stop-color="#eaf0f4"/><stop offset="0.300" stop-color="#eaf0f3"/><stop offset="0.350" stop-color="#eaf0f3"/><stop offset="0.400" stop-color="#ebf0f4"/><stop offset="0.450" stop-color="#ecf0f4"/><stop offset="0.500" stop-color="#ecf1f5"/><stop offset="0.550" stop-color="#edf1f5"/><stop offset="0.600" stop-color="#edf2f5"/><stop offset="0.650" stop-color="#eef3f5"/><stop offset="0.700" stop-color="#f0f4f5"/><stop offset="0.750" stop-color="#f2f4f5"/><stop offset="0.800" stop-color="#f4f5f5"/><stop offset="0.850" stop-color="#f5f5f5"/><stop offset="0.900" stop-color="#f5f5f5"/><stop offset="0.950" stop-color="#f4f4f4"/><stop offset="1.000" stop-color="#f4f4f4"/></linearGradient><linearGradient id="r33" gradientUnits="userSpaceOnUse" x1="0" y1="0" x2="1920" y2="0"><stop offset="0.000" stop-color="#ebf3f3"/><stop offset="0.050" stop-color="#ebf3f3"/><stop offset="0.100" stop-color="#ebf3f4"/><stop offset="0.150" stop-color="#ebf2f4"/><stop offset="0.200" stop-color="#ebf1f4"/><stop offset="0.250" stop-color="#ebf1f4"/><stop offset="0.300" stop-color="#ebf0f3"/><stop offset="0.350" stop-color="#ebf0f3"/><stop offset="0.400" stop-color="#ecf0f4"/><stop offset="0.450" stop-color="#ecf0f4"/><stop offset="0.500" stop-color="#edf1f5"/><stop offset="0.550" stop-color="#edf2f5"/><stop offset="0.600" stop-color="#eef3f5"/><stop offset="0.650" stop-color="#eff3f5"/><stop offset="0.700" stop-color="#f1f4f5"/><stop offset="0.750" stop-color="#f3f4f5"/><stop offset="0.800" stop-color="#f4f5f5"/><stop offset="0.850" stop-color="#f5f5f5"/><stop offset="0.900" stop-color="#f5f5f5"/><stop offset="0.950" stop-color="#f4f4f4"/><stop offset="1.000" stop-color="#f4f4f4"/></linearGradient><linearGradient id="r34" gradientUnits="userSpaceOnUse" x1="0" y1="0" x2="1920" y2="0"><stop offset="0.000" stop-color="#ebf3f3"/><stop offset="0.050" stop-color="#ebf3f3"/><stop offset="0.100" stop-color="#ebf3f4"/><stop offset="0.150" stop-color="#ebf2f4"/><stop offset="0.200" stop-color="#ebf2f4"/><stop offset="0.250" stop-color="#ebf1f4"/><stop offset="0.300" stop-color="#ebf1f3"/><stop offset="0.350" stop-color="#ecf0f3"/><stop offset="0.400" stop-color="#ecf0f4"/><stop offset="0.450" stop-color="#edf1f4"/><stop offset="0.500" stop-color="#eef1f5"/><stop offset="0.550" stop-color="#eef2f5"/><stop offset="0.600" stop-color="#eff3f5"/><stop offset="0.650" stop-color="#eff4f5"/><stop offset="0.700" stop-color="#f1f4f5"/><stop offset="0.750" stop-color="#f3f5f5"/><stop offset="0.800" stop-color="#f4f5f5"/><stop offset="0.850" stop-color="#f5f5f5"/><stop offset="0.900" stop-color="#f5f5f5"/><stop offset="0.950" stop-color="#f4f4f4"/><stop offset="1.000" stop-color="#f4f4f4"/></linearGradient><linearGradient id="r35" gradientUnits="userSpaceOnUse" x1="0" y1="0" x2="1920" y2="0"><stop offset="0.000" stop-color="#ebf3f3"/><stop offset="0.050" stop-color="#ebf3f3"/><stop offset="0.100" stop-color="#ebf3f4"/><stop offset="0.150" stop-color="#ecf2f4"/><stop offset="0.200" stop-color="#ecf2f4"/><stop offset="0.250" stop-color="#ecf1f4"/><stop offset="0.300" stop-color="#ecf1f3"/><stop offset="0.350" stop-color="#ecf1f3"/><stop offset="0.400" stop-color="#edf1f4"/><stop offset="0.450" stop-color="#edf1f4"/><stop offset="0.500" stop-color="#eef2f5"/><stop offset="0.550" stop-color="#eff2f5"/><stop offset="0.600" stop-color="#eff3f5"/><stop offset="0.650" stop-color="#f0f4f5"/><stop offset="0.700" stop-color="#f2f4f5"/><stop offset="0.750" stop-color="#f3f5f5"/><stop offset="0.800" stop-color="#f5f5f5"/><stop offset="0.850" stop-color="#f5f5f5"/><stop offset="0.900" stop-color="#f5f5f5"/><stop offset="0.950" stop-color="#f4f4f4"/><stop offset="1.000" stop-color="#f4f3f4"/></linearGradient><linearGradient id="r36" gradientUnits="userSpaceOnUse" x1="0" y1="0" x2="1920" y2="0"><stop offset="0.000" stop-color="#ebf3f3"/><stop offset="0.050" stop-color="#ebf3f3"/><stop offset="0.100" stop-color="#ecf3f4"/><stop offset="0.150" stop-color="#ecf3f4"/><stop offset="0.200" stop-color="#edf2f4"/><stop offset="0.250" stop-color="#edf2f4"/><stop offset="0.300" stop-color="#edf1f3"/><stop offset="0.350" stop-color="#edf1f3"/><stop offset="0.400" stop-color="#edf1f4"/><stop offset="0.450" stop-color="#eef1f4"/><stop offset="0.500" stop-color="#eff2f5"/><stop offset="0.550" stop-color="#eff3f5"/><stop offset="0.600" stop-color="#f0f3f5"/><stop offset="0.650" stop-color="#f1f4f5"/><stop offset="0.700" stop-color="#f2f4f5"/><stop offset="0.750" stop-color="#f4f5f5"/><stop offset="0.800" stop-color="#f5f5f5"/><stop offset="0.850" stop-color="#f5f5f5"/><stop offset="0.900" stop-color="#f5f5f5"/><stop offset="0.950" stop-color="#f4f4f4"/><stop offset="1.000" stop-color="#f4f3f3"/></linearGradient><linearGradient id="r37" gradientUnits="userSpaceOnUse" x1="0" y1="0" x2="1920" y2="0"><stop offset="0.000" stop-color="#ebf3f3"/><stop offset="0.050" stop-color="#ecf3f3"/><stop offset="0.100" stop-color="#ecf3f4"/><stop offset="0.150" stop-color="#edf3f4"/><stop offset="0.200" stop-color="#edf2f4"/><stop offset="0.250" stop-color="#edf2f4"/><stop offset="0.300" stop-color="#edf2f3"/><stop offset="0.350" stop-color="#edf2f4"/><stop offset="0.400" stop-color="#eef2f4"/><stop offset="0.450" stop-color="#eff2f4"/><stop offset="0.500" stop-color="#eff2f5"/><stop offset="0.550" stop-color="#f0f3f5"/><stop offset="0.600" stop-color="#f0f3f5"/><stop offset="0.650" stop-color="#f1f4f5"/><stop offset="0.700" stop-color="#f3f4f5"/><stop offset="0.750" stop-color="#f4f5f5"/><stop offset="0.800" stop-color="#f5f5f5"/><stop offset="0.850" stop-color="#f5f5f5"/><stop offset="0.900" stop-color="#f5f5f5"/><stop offset="0.950" stop-color="#f4f4f4"/><stop offset="1.000" stop-color="#f4f3f3"/></linearGradient><linearGradient id="r38" gradientUnits="userSpaceOnUse" x1="0" y1="0" x2="1920" y2="0"><stop offset="0.000" stop-color="#ecf3f3"/><stop offset="0.050" stop-color="#ecf3f3"/><stop offset="0.100" stop-color="#edf3f4"/><stop offset="0.150" stop-color="#edf3f4"/><stop offset="0.200" stop-color="#eef3f4"/><stop offset="0.250" stop-color="#eef2f4"/><stop offset="0.300" stop-color="#eef2f4"/><stop offset="0.350" stop-color="#eef2f4"/><stop offset="0.400" stop-color="#eff2f4"/><stop offset="0.450" stop-color="#eff2f4"/><stop offset="0.500" stop-color="#f0f3f5"/><stop offset="0.550" stop-color="#f0f3f5"/><stop offset="0.600" stop-color="#f1f4f5"/><stop offset="0.650" stop-color="#f2f4f4"/><stop offset="0.700" stop-color="#f4f4f4"/><stop offset="0.750" stop-color="#f5f5f5"/><stop offset="0.800" stop-color="#f5f5f5"/><stop offset="0.850" stop-color="#f5f5f5"/><stop offset="0.900" stop-color="#f4f4f4"/><stop offset="0.950" stop-color="#f4f4f4"/><stop offset="1.000" stop-color="#f3f3f3"/></linearGradient><linearGradient id="r39" gradientUnits="userSpaceOnUse" x1="0" y1="0" x2="1920" y2="0"><stop offset="0.000" stop-color="#ecf3f3"/><stop offset="0.050" stop-color="#ecf3f3"/><stop offset="0.100" stop-color="#edf3f4"/><stop offset="0.150" stop-color="#eef3f4"/><stop offset="0.200" stop-color="#eef3f4"/><stop offset="0.250" stop-color="#eef3f4"/><stop offset="0.300" stop-color="#eef2f4"/><stop offset="0.350" stop-color="#eff2f4"/><stop offset="0.400" stop-color="#eff2f4"/><stop offset="0.450" stop-color="#f0f2f4"/><stop offset="0.500" stop-color="#f0f3f5"/><stop offset="0.550" stop-color="#f1f3f4"/><stop offset="0.600" stop-color="#f2f4f4"/><stop offset="0.650" stop-color="#f3f4f4"/><stop offset="0.700" stop-color="#f4f4f4"/><stop offset="0.750" stop-color="#f5f5f4"/><stop offset="0.800" stop-color="#f5f5f5"/><stop offset="0.850" stop-color="#f5f5f5"/><stop offset="0.900" stop-color="#f4f4f4"/><stop offset="0.950" stop-color="#f4f4f4"/><stop offset="1.000" stop-color="#f3f3f3"/></linearGradient><linearGradient id="r40" gradientUnits="userSpaceOnUse" x1="0" y1="0" x2="1920" y2="0"><stop offset="0.000" stop-color="#ecf3f3"/><stop offset="0.050" stop-color="#ecf3f3"/><stop offset="0.100" stop-color="#edf3f4"/><stop offset="0.150" stop-color="#eff3f4"/><stop offset="0.200" stop-color="#eff3f5"/><stop offset="0.250" stop-color="#eff3f5"/><stop offset="0.300" stop-color="#eff3f4"/><stop offset="0.350" stop-color="#eff3f4"/><stop offset="0.400" stop-color="#f0f3f4"/><stop offset="0.450" stop-color="#f0f3f4"/><stop offset="0.500" stop-color="#f1f3f4"/><stop offset="0.550" stop-color="#f2f3f4"/><stop offset="0.600" stop-color="#f2f4f4"/><stop offset="0.650" stop-color="#f4f4f4"/><stop offset="0.700" stop-color="#f5f4f4"/><stop offset="0.750" stop-color="#f5f5f4"/><stop offset="0.800" stop-color="#f5f5f5"/><stop offset="0.850" stop-color="#f5f5f5"/><stop offset="0.900" stop-color="#f4f4f4"/><stop offset="0.950" stop-color="#f4f4f4"/><stop offset="1.000" stop-color="#f3f3f3"/></linearGradient><linearGradient id="r41" gradientUnits="userSpaceOnUse" x1="0" y1="0" x2="1920" y2="0"><stop offset="0.000" stop-color="#ecf3f3"/><stop offset="0.050" stop-color="#edf3f3"/><stop offset="0.100" stop-color="#eef3f4"/><stop offset="0.150" stop-color="#eff3f4"/><stop offset="0.200" stop-color="#f0f3f5"/><stop offset="0.250" stop-color="#f0f3f5"/><stop offset="0.300" stop-color="#f0f3f5"/><stop offset="0.350" stop-color="#f0f3f5"/><stop offset="0.400" stop-color="#f0f3f5"/><stop offset="0.450" stop-color="#f1f3f5"/><stop offset="0.500" stop-color="#f2f3f4"/><stop offset="0.550" stop-color="#f2f4f4"/><stop offset="0.600" stop-color="#f3f4f4"/><stop offset="0.650" stop-color="#f4f4f4"/><stop offset="0.700" stop-color="#f5f4f4"/><stop offset="0.750" stop-color="#f5f5f4"/><stop offset="0.800" stop-color="#f5f5f4"/><stop offset="0.850" stop-color="#f5f5f5"/><stop offset="0.900" stop-color="#f4f4f4"/><stop offset="0.950" stop-color="#f3f4f4"/><stop offset="1.000" stop-color="#f3f3f3"/></linearGradient><linearGradient id="r42" gradientUnits="userSpaceOnUse" x1="0" y1="0" x2="1920" y2="0"><stop offset="0.000" stop-color="#edf3f3"/><stop offset="0.050" stop-color="#edf3f3"/><stop offset="0.100" stop-color="#eef3f4"/><stop offset="0.150" stop-color="#f0f4f5"/><stop offset="0.200" stop-color="#f0f4f5"/><stop offset="0.250" stop-color="#f0f4f5"/><stop offset="0.300" stop-color="#f0f3f5"/><stop offset="0.350" stop-color="#f1f3f5"/><stop offset="0.400" stop-color="#f1f3f5"/><stop offset="0.450" stop-color="#f2f3f5"/><stop offset="0.500" stop-color="#f2f3f4"/><stop offset="0.550" stop-color="#f3f4f4"/><stop offset="0.600" stop-color="#f4f4f4"/><stop offset="0.650" stop-color="#f5f4f4"/><stop offset="0.700" stop-color="#f5f4f4"/><stop offset="0.750" stop-color="#f6f4f4"/><stop offset="0.800" stop-color="#f5f5f4"/><stop offset="0.850" stop-color="#f5f4f4"/><stop offset="0.900" stop-color="#f4f4f4"/><stop offset="0.950" stop-color="#f3f4f4"/><stop offset="1.000" stop-color="#f3f3f3"/></linearGradient><linearGradient id="r43" gradientUnits="userSpaceOnUse" x1="0" y1="0" x2="1920" y2="0"><stop offset="0.000" stop-color="#edf3f3"/><stop offset="0.050" stop-color="#edf3f3"/><stop offset="0.100" stop-color="#eff3f4"/><stop offset="0.150" stop-color="#f0f4f5"/><stop offset="0.200" stop-color="#f1f4f5"/><stop offset="0.250" stop-color="#f1f4f5"/><stop offset="0.300" stop-color="#f1f4f6"/><stop offset="0.350" stop-color="#f1f3f5"/><stop offset="0.400" stop-color="#f2f3f5"/><stop offset="0.450" stop-color="#f2f3f5"/><stop offset="0.500" stop-color="#f3f4f4"/><stop offset="0.550" stop-color="#f3f4f4"/><stop offset="0.600" stop-color="#f4f4f4"/><stop offset="0.650" stop-color="#f5f4f4"/><stop offset="0.700" stop-color="#f6f4f4"/><stop offset="0.750" stop-color="#f6f4f4"/><stop offset="0.800" stop-color="#f5f5f4"/><stop offset="0.850" stop-color="#f5f4f4"/><stop offset="0.900" stop-color="#f4f4f4"/><stop offset="0.950" stop-color="#f3f3f4"/><stop offset="1.000" stop-color="#f3f3f3"/></linearGradient><linearGradient id="r44" gradientUnits="userSpaceOnUse" x1="0" y1="0" x2="1920" y2="0"><stop offset="0.000" stop-color="#edf3f3"/><stop offset="0.050" stop-color="#eef3f3"/><stop offset="0.100" stop-color="#eff4f4"/><stop offset="0.150" stop-color="#f1f4f5"/><stop offset="0.200" stop-color="#f1f4f5"/><stop offset="0.250" stop-color="#f1f4f6"/><stop offset="0.300" stop-color="#f2f4f6"/><stop offset="0.350" stop-color="#f2f4f6"/><stop offset="0.400" stop-color="#f2f4f5"/><stop offset="0.450" stop-color="#f3f4f5"/><stop offset="0.500" stop-color="#f3f4f4"/><stop offset="0.550" stop-color="#f4f4f4"/><stop offset="0.600" stop-color="#f5f4f4"/><stop offset="0.650" stop-color="#f5f4f4"/><stop offset="0.700" stop-color="#f6f4f4"/><stop offset="0.750" stop-color="#f6f4f4"/><stop offset="0.800" stop-color="#f6f4f4"/><stop offset="0.850" stop-color="#f5f4f4"/><stop offset="0.900" stop-color="#f4f4f4"/><stop offset="0.950" stop-color="#f3f3f3"/><stop offset="1.000" stop-color="#f3f3f3"/></linearGradient><linearGradient id="r45" gradientUnits="userSpaceOnUse" x1="0" y1="0" x2="1920" y2="0"><stop offset="0.000" stop-color="#eef3f3"/><stop offset="0.050" stop-color="#eef3f3"/><stop offset="0.100" stop-color="#f0f4f4"/><stop offset="0.150" stop-color="#f1f4f5"/><stop offset="0.200" stop-color="#f2f4f5"/><stop offset="0.250" stop-color="#f2f4f6"/><stop offset="0.300" stop-color="#f2f4f6"/><stop offset="0.350" stop-color="#f2f4f6"/><stop offset="0.400" stop-color="#f3f4f5"/><stop offset="0.450" stop-color="#f3f4f5"/><stop offset="0.500" stop-color="#f4f4f4"/><stop offset="0.550" stop-color="#f4f4f4"/><stop offset="0.600" stop-color="#f5f4f4"/><stop offset="0.650" stop-color="#f6f4f4"/><stop offset="0.700" stop-color="#f6f4f4"/><stop offset="0.750" stop-color="#f6f4f4"/><stop offset="0.800" stop-color="#f6f4f4"/><stop offset="0.850" stop-color="#f5f4f4"/><stop offset="0.900" stop-color="#f4f4f4"/><stop offset="0.950" stop-color="#f3f3f3"/><stop offset="1.000" stop-color="#f3f3f3"/></linearGradient><linearGradient id="r46" gradientUnits="userSpaceOnUse" x1="0" y1="0" x2="1920" y2="0"><stop offset="0.000" stop-color="#eef3f3"/><stop offset="0.050" stop-color="#eff3f4"/><stop offset="0.100" stop-color="#f0f4f4"/><stop offset="0.150" stop-color="#f2f4f5"/><stop offset="0.200" stop-color="#f2f4f6"/><stop offset="0.250" stop-color="#f3f4f6"/><stop offset="0.300" stop-color="#f3f4f6"/><stop offset="0.350" stop-color="#f3f4f6"/><stop offset="0.400" stop-color="#f3f4f5"/><stop offset="0.450" stop-color="#f4f4f5"/><stop offset="0.500" stop-color="#f4f4f4"/><stop offset="0.550" stop-color="#f5f4f4"/><stop offset="0.600" stop-color="#f6f4f4"/><stop offset="0.650" stop-color="#f6f4f4"/><stop offset="0.700" stop-color="#f7f4f4"/><stop offset="0.750" stop-color="#f6f4f4"/><stop offset="0.800" stop-color="#f6f4f4"/><stop offset="0.850" stop-color="#f5f4f4"/><stop offset="0.900" stop-color="#f4f4f4"/><stop offset="0.950" stop-color="#f3f3f3"/><stop offset="1.000" stop-color="#f3f3f3"/></linearGradient><linearGradient id="r47" gradientUnits="userSpaceOnUse" x1="0" y1="0" x2="1920" y2="0"><stop offset="0.000" stop-color="#eef3f3"/><stop offset="0.050" stop-color="#eff4f4"/><stop offset="0.100" stop-color="#f1f4f4"/><stop offset="0.150" stop-color="#f2f4f5"/><stop offset="0.200" stop-color="#f3f5f6"/><stop offset="0.250" stop-color="#f3f5f6"/><stop offset="0.300" stop-color="#f3f4f6"/><stop offset="0.350" stop-color="#f3f4f6"/><stop offset="0.400" stop-color="#f4f4f5"/><stop offset="0.450" stop-color="#f4f4f5"/><stop offset="0.500" stop-color="#f5f4f4"/><stop offset="0.550" stop-color="#f5f4f4"/><stop offset="0.600" stop-color="#f6f4f4"/><stop offset="0.650" stop-color="#f7f4f4"/><stop offset="0.700" stop-color="#f7f4f4"/><stop offset="0.750" stop-color="#f7f4f4"/><stop offset="0.800" stop-color="#f6f4f4"/><stop offset="0.850" stop-color="#f5f4f4"/><stop offset="0.900" stop-color="#f4f4f4"/><stop offset="0.950" stop-color="#f3f3f3"/><stop offset="1.000" stop-color="#f3f3f3"/></linearGradient></defs><rect x="0" y="0" width="1920" height="25" fill="url(#r0)"/><rect x="0" y="24" width="1920" height="25" fill="url(#r1)"/><rect x="0" y="48" width="1920" height="25" fill="url(#r2)"/><rect x="0" y="72" width="1920" height="25" fill="url(#r3)"/><rect x="0" y="96" width="1920" height="25" fill="url(#r4)"/><rect x="0" y="120" width="1920" height="25" fill="url(#r5)"/><rect x="0" y="144" width="1920" height="25" fill="url(#r6)"/><rect x="0" y="168" width="1920" height="25" fill="url(#r7)"/><rect x="0" y="192" width="1920" height="25" fill="url(#r8)"/><rect x="0" y="216" width="1920" height="25" fill="url(#r9)"/><rect x="0" y="240" width="1920" height="25" fill="url(#r10)"/><rect x="0" y="264" width="1920" height="25" fill="url(#r11)"/><rect x="0" y="288" width="1920" height="25" fill="url(#r12)"/><rect x="0" y="312" width="1920" height="25" fill="url(#r13)"/><rect x="0" y="336" width="1920" height="25" fill="url(#r14)"/><rect x="0" y="360" width="1920" height="25" fill="url(#r15)"/><rect x="0" y="384" width="1920" height="25" fill="url(#r16)"/><rect x="0" y="408" width="1920" height="25" fill="url(#r17)"/><rect x="0" y="432" width="1920" height="25" fill="url(#r18)"/><rect x="0" y="456" width="1920" height="25" fill="url(#r19)"/><rect x="0" y="480" width="1920" height="25" fill="url(#r20)"/><rect x="0" y="504" width="1920" height="25" fill="url(#r21)"/><rect x="0" y="528" width="1920" height="25" fill="url(#r22)"/><rect x="0" y="552" width="1920" height="25" fill="url(#r23)"/><rect x="0" y="576" width="1920" height="25" fill="url(#r24)"/><rect x="0" y="600" width="1920" height="25" fill="url(#r25)"/><rect x="0" y="624" width="1920" height="25" fill="url(#r26)"/><rect x="0" y="648" width="1920" height="25" fill="url(#r27)"/><rect x="0" y="672" width="1920" height="25" fill="url(#r28)"/><rect x="0" y="696" width="1920" height="25" fill="url(#r29)"/><rect x="0" y="720" width="1920" height="25" fill="url(#r30)"/><rect x="0" y="744" width="1920" height="25" fill="url(#r31)"/><rect x="0" y="768" width="1920" height="25" fill="url(#r32)"/><rect x="0" y="792" width="1920" height="25" fill="url(#r33)"/><rect x="0" y="816" width="1920" height="25" fill="url(#r34)"/><rect x="0" y="840" width="1920" height="25" fill="url(#r35)"/><rect x="0" y="864" width="1920" height="25" fill="url(#r36)"/><rect x="0" y="888" width="1920" height="25" fill="url(#r37)"/><rect x="0" y="912" width="1920" height="25" fill="url(#r38)"/><rect x="0" y="936" width="1920" height="25" fill="url(#r39)"/><rect x="0" y="960" width="1920" height="25" fill="url(#r40)"/><rect x="0" y="984" width="1920" height="25" fill="url(#r41)"/><rect x="0" y="1008" width="1920" height="25" fill="url(#r42)"/><rect x="0" y="1032" width="1920" height="25" fill="url(#r43)"/><rect x="0" y="1056" width="1920" height="25" fill="url(#r44)"/><rect x="0" y="1080" width="1920" height="25" fill="url(#r45)"/><rect x="0" y="1104" width="1920" height="25" fill="url(#r46)"/><rect x="0" y="1128" width="1920" height="25" fill="url(#r47)"/></g></svg>
<svg width="1920" height="1118" viewBox="0 0 1920 1118"><defs><linearGradient id="fadeV" x1="0" y1="0" x2="0" y2="1"><stop offset="0" stop-color="#fff" stop-opacity="1"/><stop offset="0.4" stop-color="#fff" stop-opacity="0.85"/><stop offset="0.55" stop-color="#fff" stop-opacity="0.45"/><stop offset="0.68" stop-color="#fff" stop-opacity="0.2"/><stop offset="0.85" stop-color="#fff" stop-opacity="0.07"/><stop offset="1" stop-color="#fff" stop-opacity="0.02"/></linearGradient><linearGradient id="lg" gradientUnits="userSpaceOnUse" x1="0" y1="0" x2="1920" y2="0"><stop offset="0" stop-color="#b3cbcf" stop-opacity="1"/><stop offset="0.2" stop-color="#b3cbcf" stop-opacity="1"/><stop offset="0.38" stop-color="#b3cbcf" stop-opacity="0"/></linearGradient><linearGradient id="lf" gradientUnits="userSpaceOnUse" x1="0" y1="0" x2="1920" y2="0"><stop offset="0" stop-color="#b3cbcf" stop-opacity="1"/><stop offset="0.68" stop-color="#b3cbcf" stop-opacity="1"/><stop offset="0.83" stop-color="#b3cbcf" stop-opacity="0"/></linearGradient><linearGradient id="fadeH" x1="0" y1="0" x2="1" y2="0"><stop offset="0" stop-color="#fff" stop-opacity="0.25"/><stop offset="0.2" stop-color="#fff" stop-opacity="0.3"/><stop offset="0.38" stop-color="#fff" stop-opacity="0.75"/><stop offset="0.6" stop-color="#fff" stop-opacity="0.9"/><stop offset="1" stop-color="#fff" stop-opacity="1"/></linearGradient><mask id="mkV"><rect x="0" y="0" width="1920" height="1118" fill="url(#fadeV)"/></mask><mask id="mkH"><rect x="0" y="0" width="1920" height="1118" fill="url(#fadeH)"/></mask></defs><defs><linearGradient id="st1" gradientUnits="userSpaceOnUse" x1="0" y1="560" x2="520" y2="0"><stop offset="0" stop-color="#fff" stop-opacity="0"/><stop offset="0.35" stop-color="#fff" stop-opacity="0.35"/><stop offset="0.5" stop-color="#fff" stop-opacity="0"/><stop offset="0.62" stop-color="#fff" stop-opacity="0.25"/><stop offset="0.75" stop-color="#fff" stop-opacity="0"/></linearGradient></defs><g mask="url(#mkV)"><g mask="url(#mkH)"><line x1="208.5" y1="0" x2="208.5" y2="1118" stroke="#b3cbcf" stroke-width="1.4" opacity="0.7"/><line x1="480" y1="0" x2="480" y2="1118" stroke="#b3cbcf" stroke-width="1.4" opacity="0.7"/><line x1="710.6" y1="0" x2="710.6" y2="1118" stroke="#b3cbcf" stroke-width="1.4" opacity="0.7"/><line x1="908.3" y1="0" x2="908.3" y2="1118" stroke="#b3cbcf" stroke-width="1.4" opacity="0.7"/><line x1="1083.3" y1="0" x2="1083.3" y2="1118" stroke="#b3cbcf" stroke-width="1.4" opacity="0.7"/><line x1="1233.3" y1="0" x2="1233.3" y2="1118" stroke="#b3cbcf" stroke-width="1.4" opacity="0.7"/><line x1="1367.5" y1="0" x2="1367.5" y2="1118" stroke="#b3cbcf" stroke-width="1.4" opacity="0.7"/><line x1="1485" y1="0" x2="1485" y2="1118" stroke="#b3cbcf" stroke-width="1.4" opacity="0.7"/><line x1="1593.2" y1="0" x2="1593.2" y2="1118" stroke="#b3cbcf" stroke-width="1.4" opacity="0.7"/><line x1="1689.7" y1="0" x2="1689.7" y2="1118" stroke="#b3cbcf" stroke-width="1.4" opacity="0.7"/><line x1="1777.2" y1="0" x2="1777.2" y2="1118" stroke="#b3cbcf" stroke-width="1.4" opacity="0.7"/><line x1="1856.9" y1="0" x2="1856.9" y2="1118" stroke="#b3cbcf" stroke-width="1.4" opacity="0.7"/><line x1="1569.5" y1="0" x2="1920" y2="99.5" stroke="#b3cbcf" stroke-width="1.4" opacity="0.7"/><line x1="900" y1="0" x2="1920" y2="214" stroke="#b3cbcf" stroke-width="1.4" opacity="0.7"/><line x1="0" y1="57.5" x2="1920" y2="325" stroke="#b3cbcf" stroke-width="1.4" opacity="0.7"/><line x1="0" y1="307.5" x2="1920" y2="438" stroke="#b3cbcf" stroke-width="1.4" opacity="0.7"/><line x1="0" y1="553" x2="1920" y2="550" stroke="#b3cbcf" stroke-width="1.4" opacity="0.3"/><line x1="0" y1="795" x2="1920" y2="675" stroke="url(#lf)" stroke-width="1.4" opacity="0.55"/><line x1="0" y1="1044" x2="1920" y2="908" stroke="url(#lg)" stroke-width="1.4" opacity="0.4"/><g fill="#8fa5ab" opacity="0.55"><rect x="47.1" y="120.5" width="1.8" height="5"/><rect x="47.1" y="167.1" width="1.8" height="5"/><rect x="47.1" y="213.7" width="1.8" height="5"/><rect x="47.1" y="260.3" width="1.8" height="5"/><rect x="47.1" y="306.9" width="1.8" height="5"/><rect x="47.1" y="353.5" width="1.8" height="5"/><rect x="47.1" y="400.1" width="1.8" height="5"/><rect x="47.1" y="446.7" width="1.8" height="5"/><rect x="47.1" y="493.3" width="1.8" height="5"/><rect x="47.1" y="539.9" width="1.8" height="5"/><rect x="47.1" y="586.5" width="1.8" height="5"/><rect x="47.1" y="633.1" width="1.8" height="5"/><rect x="47.1" y="679.7" width="1.8" height="5"/><rect x="47.1" y="726.3" width="1.8" height="5"/><rect x="47.1" y="772.9" width="1.8" height="5"/><rect x="436.1" y="27.5" width="1.8" height="5"/><rect x="436.1" y="74.1" width="1.8" height="5"/><rect x="436.1" y="120.7" width="1.8" height="5"/><rect x="436.1" y="167.3" width="1.8" height="5"/><rect x="436.1" y="213.9" width="1.8" height="5"/><rect x="436.1" y="260.5" width="1.8" height="5"/><rect x="436.1" y="307.1" width="1.8" height="5"/><rect x="436.1" y="353.7" width="1.8" height="5"/><rect x="436.1" y="400.3" width="1.8" height="5"/><rect x="436.1" y="446.9" width="1.8" height="5"/><rect x="436.1" y="493.5" width="1.8" height="5"/><rect x="436.1" y="540.1" width="1.8" height="5"/><rect x="436.1" y="586.7" width="1.8" height="5"/><rect x="436.1" y="633.3" width="1.8" height="5"/><rect x="436.1" y="679.9" width="1.8" height="5"/><rect x="436.1" y="726.5" width="1.8" height="5"/><rect x="436.1" y="773.1" width="1.8" height="5"/><rect x="767.4" y="27.5" width="1.8" height="5"/><rect x="767.4" y="74.1" width="1.8" height="5"/><rect x="767.4" y="120.7" width="1.8" height="5"/><rect x="767.4" y="167.3" width="1.8" height="5"/><rect x="767.4" y="213.9" width="1.8" height="5"/><rect x="767.4" y="260.5" width="1.8" height="5"/><rect x="767.4" y="307.1" width="1.8" height="5"/><rect x="767.4" y="353.7" width="1.8" height="5"/><rect x="767.4" y="400.3" width="1.8" height="5"/><rect x="767.4" y="446.9" width="1.8" height="5"/><rect x="767.4" y="493.5" width="1.8" height="5"/><rect x="767.4" y="540.1" width="1.8" height="5"/><rect x="767.4" y="586.7" width="1.8" height="5"/><rect x="1050.8" y="0.8" width="1.8" height="5"/><rect x="1050.8" y="47.4" width="1.8" height="5"/><rect x="1050.8" y="94.0" width="1.8" height="5"/><rect x="1050.8" y="140.6" width="1.8" height="5"/><rect x="1050.8" y="187.2" width="1.8" height="5"/><rect x="1050.8" y="233.8" width="1.8" height="5"/><rect x="1301.6" y="27.5" width="1.8" height="5"/><rect x="1301.6" y="74.1" width="1.8" height="5"/><rect x="1301.6" y="120.7" width="1.8" height="5"/><rect x="1301.6" y="167.3" width="1.8" height="5"/><rect x="1301.6" y="213.9" width="1.8" height="5"/><rect x="1301.6" y="260.5" width="1.8" height="5"/><rect x="1518.1" y="3.1" width="1.8" height="5"/><rect x="1518.1" y="49.7" width="1.8" height="5"/><rect x="1518.1" y="96.3" width="1.8" height="5"/><rect x="1518.1" y="142.9" width="1.8" height="5"/><rect x="1518.1" y="189.5" width="1.8" height="5"/><rect x="1518.1" y="236.1" width="1.8" height="5"/><rect x="1518.1" y="282.7" width="1.8" height="5"/><rect x="1518.1" y="329.3" width="1.8" height="5"/><rect x="1518.1" y="375.9" width="1.8" height="5"/><rect x="1709.1" y="27.5" width="1.8" height="5"/><rect x="1709.1" y="74.1" width="1.8" height="5"/><rect x="1709.1" y="120.7" width="1.8" height="5"/><rect x="1709.1" y="167.3" width="1.8" height="5"/><rect x="1709.1" y="213.9" width="1.8" height="5"/><rect x="1709.1" y="260.5" width="1.8" height="5"/><rect x="1709.1" y="307.1" width="1.8" height="5"/><rect x="1709.1" y="353.7" width="1.8" height="5"/><rect x="1709.1" y="400.3" width="1.8" height="5"/><rect x="1709.1" y="446.9" width="1.8" height="5"/><rect x="1709.1" y="493.5" width="1.8" height="5"/><rect x="1709.1" y="540.1" width="1.8" height="5"/><rect x="1709.1" y="586.7" width="1.8" height="5"/><rect x="1709.1" y="633.3" width="1.8" height="5"/><rect x="1709.1" y="679.9" width="1.8" height="5"/><rect x="1880.1" y="5.0" width="1.8" height="5"/><rect x="1880.1" y="51.6" width="1.8" height="5"/><rect x="1880.1" y="98.2" width="1.8" height="5"/><rect x="1880.1" y="144.8" width="1.8" height="5"/><rect x="1880.1" y="191.4" width="1.8" height="5"/><rect x="1880.1" y="238.0" width="1.8" height="5"/><rect x="1880.1" y="284.6" width="1.8" height="5"/><rect x="1880.1" y="331.2" width="1.8" height="5"/><rect x="1880.1" y="377.8" width="1.8" height="5"/><rect x="1880.1" y="424.4" width="1.8" height="5"/><rect x="1880.1" y="471.0" width="1.8" height="5"/><rect x="1880.1" y="517.6" width="1.8" height="5"/><rect x="1880.1" y="564.2" width="1.8" height="5"/><rect x="1880.1" y="610.8" width="1.8" height="5"/><rect x="1880.1" y="657.4" width="1.8" height="5"/><rect x="37.5" y="206.1" width="5" height="1.8"/><rect x="84.1" y="209.3" width="5" height="1.8"/><rect x="130.7" y="212.5" width="5" height="1.8"/><rect x="177.3" y="215.7" width="5" height="1.8"/><rect x="223.9" y="218.9" width="5" height="1.8"/><rect x="270.5" y="222.1" width="5" height="1.8"/><rect x="317.1" y="225.3" width="5" height="1.8"/><rect x="363.7" y="228.5" width="5" height="1.8"/><rect x="410.3" y="231.7" width="5" height="1.8"/><rect x="456.9" y="234.9" width="5" height="1.8"/><rect x="503.5" y="238.1" width="5" height="1.8"/><rect x="550.1" y="241.3" width="5" height="1.8"/><rect x="596.7" y="244.5" width="5" height="1.8"/><rect x="643.3" y="247.7" width="5" height="1.8"/><rect x="689.9" y="250.9" width="5" height="1.8"/><rect x="736.5" y="254.1" width="5" height="1.8"/><rect x="783.1" y="257.2" width="5" height="1.8"/><rect x="829.7" y="260.4" width="5" height="1.8"/><rect x="876.3" y="263.6" width="5" height="1.8"/><rect x="922.9" y="266.8" width="5" height="1.8"/><rect x="969.5" y="270.0" width="5" height="1.8"/><rect x="1016.1" y="273.2" width="5" height="1.8"/><rect x="1062.7" y="276.4" width="5" height="1.8"/><rect x="1109.3" y="279.6" width="5" height="1.8"/><rect x="1155.9" y="282.8" width="5" height="1.8"/><rect x="1202.5" y="286.0" width="5" height="1.8"/><rect x="1249.1" y="289.2" width="5" height="1.8"/><rect x="1295.7" y="292.4" width="5" height="1.8"/><rect x="1342.3" y="295.6" width="5" height="1.8"/><rect x="1388.9" y="298.8" width="5" height="1.8"/><rect x="1435.5" y="302.0" width="5" height="1.8"/><rect x="1482.1" y="305.2" width="5" height="1.8"/><rect x="1528.7" y="308.4" width="5" height="1.8"/><rect x="1575.3" y="311.6" width="5" height="1.8"/><rect x="1621.9" y="314.8" width="5" height="1.8"/><rect x="1668.5" y="318.0" width="5" height="1.8"/><rect x="1715.1" y="321.2" width="5" height="1.8"/><rect x="1761.7" y="324.4" width="5" height="1.8"/><rect x="1808.3" y="327.6" width="5" height="1.8"/><rect x="1854.9" y="330.8" width="5" height="1.8"/><rect x="1901.5" y="334.0" width="5" height="1.8"/><rect x="990.5" y="4.1" width="5" height="1.8"/><rect x="1037.1" y="10.6" width="5" height="1.8"/><rect x="1083.7" y="17.1" width="5" height="1.8"/><rect x="1130.3" y="23.7" width="5" height="1.8"/><rect x="1176.9" y="30.2" width="5" height="1.8"/><rect x="1223.5" y="36.7" width="5" height="1.8"/><rect x="1270.1" y="43.2" width="5" height="1.8"/><rect x="1316.7" y="49.8" width="5" height="1.8"/><rect x="1363.3" y="56.3" width="5" height="1.8"/><rect x="1409.9" y="62.8" width="5" height="1.8"/><rect x="1456.5" y="69.3" width="5" height="1.8"/><rect x="1503.1" y="75.9" width="5" height="1.8"/><rect x="1549.7" y="82.4" width="5" height="1.8"/><rect x="1596.3" y="88.9" width="5" height="1.8"/><rect x="1642.9" y="95.4" width="5" height="1.8"/><rect x="1689.5" y="102.0" width="5" height="1.8"/><rect x="1736.1" y="108.5" width="5" height="1.8"/><rect x="1782.7" y="115.0" width="5" height="1.8"/><rect x="1829.3" y="121.5" width="5" height="1.8"/><rect x="1875.9" y="128.1" width="5" height="1.8"/><rect x="37.5" y="539.1" width="5" height="1.8"/><rect x="84.1" y="539.1" width="5" height="1.8"/><rect x="130.7" y="539.1" width="5" height="1.8"/><rect x="177.3" y="539.1" width="5" height="1.8"/><rect x="223.9" y="539.1" width="5" height="1.8"/><rect x="270.5" y="539.1" width="5" height="1.8"/><rect x="317.1" y="539.1" width="5" height="1.8"/><rect x="363.7" y="539.1" width="5" height="1.8"/><rect x="410.3" y="539.1" width="5" height="1.8"/><rect x="456.9" y="539.1" width="5" height="1.8"/><rect x="503.5" y="539.1" width="5" height="1.8"/><rect x="550.1" y="539.1" width="5" height="1.8"/><rect x="596.7" y="539.1" width="5" height="1.8"/><rect x="643.3" y="539.1" width="5" height="1.8"/><rect x="689.9" y="539.1" width="5" height="1.8"/><rect x="736.5" y="539.1" width="5" height="1.8"/><rect x="783.1" y="539.1" width="5" height="1.8"/><rect x="829.7" y="539.1" width="5" height="1.8"/><rect x="876.3" y="539.1" width="5" height="1.8"/><rect x="922.9" y="539.1" width="5" height="1.8"/><rect x="969.5" y="539.1" width="5" height="1.8"/><rect x="1016.1" y="539.1" width="5" height="1.8"/><rect x="1062.7" y="539.1" width="5" height="1.8"/><rect x="1109.3" y="539.1" width="5" height="1.8"/><rect x="1155.9" y="539.1" width="5" height="1.8"/><rect x="1202.5" y="539.1" width="5" height="1.8"/><rect x="1249.1" y="539.1" width="5" height="1.8"/><rect x="1295.7" y="539.1" width="5" height="1.8"/><rect x="1342.3" y="539.1" width="5" height="1.8"/><rect x="1388.9" y="539.1" width="5" height="1.8"/><rect x="1435.5" y="539.1" width="5" height="1.8"/><rect x="1482.1" y="539.1" width="5" height="1.8"/><rect x="1528.7" y="539.1" width="5" height="1.8"/><rect x="1575.3" y="539.1" width="5" height="1.8"/><rect x="1621.9" y="539.1" width="5" height="1.8"/><rect x="1668.5" y="539.1" width="5" height="1.8"/><rect x="1715.1" y="539.1" width="5" height="1.8"/><rect x="1761.7" y="539.1" width="5" height="1.8"/><rect x="1808.3" y="539.1" width="5" height="1.8"/><rect x="1854.9" y="539.1" width="5" height="1.8"/><rect x="1901.5" y="539.1" width="5" height="1.8"/></g></g></g><line x1="18.5" y1="743" x2="18.5" y2="788" stroke="#bccdd1" stroke-width="1.5" opacity="0.22"/><line x1="18.5" y1="844" x2="18.5" y2="860" stroke="#bccdd1" stroke-width="1.5" opacity="0.22"/><rect x="4" y="788" width="29" height="56" fill="#b9cbd0" opacity="0.22"/><rect x="50" y="751.6" width="28" height="196.0" fill="#b9cbd0" opacity="0.2"/><line x1="108.0" y1="925" x2="108.0" y2="947.6" stroke="#bccdd1" stroke-width="1.5" opacity="0.18"/><line x1="108.0" y1="989" x2="108.0" y2="995" stroke="#bccdd1" stroke-width="1.5" opacity="0.18"/><rect x="93" y="947.6" width="30" height="41.39999999999998" fill="#b9cbd0" opacity="0.18"/><line x1="152.0" y1="988.7" x2="152.0" y2="1000" stroke="#bccdd1" stroke-width="1.5" opacity="0.18"/><rect x="137" y="958" width="30" height="30.700000000000045" fill="#b9cbd0" opacity="0.18"/><line x1="196.0" y1="890" x2="196.0" y2="918.8" stroke="#bccdd1" stroke-width="1.5" opacity="0.2"/><rect x="182" y="918.8" width="28" height="46.0" fill="#b9cbd0" opacity="0.2"/><line x1="239.5" y1="890" x2="239.5" y2="921.4" stroke="#bccdd1" stroke-width="1.5" opacity="0.13"/><rect x="225" y="921.4" width="29" height="90.60000000000002" fill="#b9cbd0" opacity="0.13"/><rect x="225" y="1012" width="29" height="92" fill="#b9cbd0" opacity="0.05"/><rect x="270" y="1006.6" width="28" height="97.39999999999998" fill="#b9cbd0" opacity="0.05"/><rect x="1509.5" y="387.4" width="28.90000000000009" height="149.60000000000002" fill="#b9cbd0" opacity="0.55"/><line x1="1567.9" y1="416" x2="1567.9" y2="451.8" stroke="#bccdd1" stroke-width="1.5" opacity="0.5"/><line x1="1567.9" y1="538.7" x2="1567.9" y2="553" stroke="#bccdd1" stroke-width="1.5" opacity="0.5"/><rect x="1553.9" y="451.8" width="28.0" height="86.90000000000003" fill="#b9cbd0" opacity="0.5"/><line x1="1612.5" y1="379" x2="1612.5" y2="410" stroke="#bccdd1" stroke-width="1.5" opacity="0.5"/><line x1="1612.5" y1="453.4" x2="1612.5" y2="492" stroke="#bccdd1" stroke-width="1.5" opacity="0.5"/><rect x="1598" y="410" width="29" height="43.39999999999998" fill="#b9cbd0" opacity="0.5"/><line x1="1655.95" y1="495.2" x2="1655.95" y2="566" stroke="#bccdd1" stroke-width="1.5" opacity="0.5"/><rect x="1641.5" y="456.6" width="28.90000000000009" height="38.599999999999966" fill="#b9cbd0" opacity="0.5"/><line x1="1700.75" y1="463" x2="1700.75" y2="493.6" stroke="#bccdd1" stroke-width="1.5" opacity="0.45"/><rect x="1687.5" y="493.6" width="26.5" height="66.0" fill="#b9cbd0" opacity="0.45"/><line x1="1744.0" y1="435.7" x2="1744.0" y2="513" stroke="#bccdd1" stroke-width="1.5" opacity="0.45"/><line x1="1744.0" y1="558" x2="1744.0" y2="585" stroke="#bccdd1" stroke-width="1.5" opacity="0.45"/><rect x="1729" y="513" width="30" height="45" fill="#b9cbd0" opacity="0.45"/><rect x="1776.7" y="572.5" width="24.09999999999991" height="32.200000000000045" fill="#b9cbd0" opacity="0.25"/><rect x="1817" y="553" width="27" height="18" fill="#b9cbd0" opacity="0.2"/><rect x="1863.6" y="558" width="25.800000000000182" height="27" fill="#b9cbd0" opacity="0.2"/></svg>
<div style="position:absolute;left:199px;top:1026px;width:1482px;height:4.4px;background:#9c9fa0"></div>
<div class="bar" style="left:359.5px;top:686px;width:133.0px;height:318px;background:linear-gradient(to bottom, #0786de 0%, #0290e8 8%, #00a0e4 39%, #02bdf5 63%, #00d8ff 82%, #00e0fc 92.30%, #20e0fc 92.45%, #72e5f6 96.15%, #a8e8f2 100%);box-shadow:0 0 2.5px 1.5px rgba(175,245,255,0.85)"></div>
<div class="bar" style="left:697.5px;top:610px;width:132.5px;height:394px;background:linear-gradient(to bottom, #0786de 0%, #0290e8 8%, #00a0e4 39%, #02bdf5 63%, #00d8ff 82%, #00e0fc 90.36%, #20e4fc 90.51%, #80ebfa 95.18%, #c0f0f8 100%);box-shadow:0 0 2.5px 1.5px rgba(175,245,255,0.85)"></div>
<div class="bar" style="left:1036.0px;top:364px;width:132.0px;height:640px;background:linear-gradient(to bottom, #0786de 0%, #0290e8 8%, #00a0e4 39%, #02bdf5 63%, #00d8ff 82%, #00e0fc 89.22%, #30e2fb 89.37%, #95edfa 94.61%, #d8f4fa 100%);box-shadow:0 0 2.5px 1.5px rgba(175,245,255,0.85)"></div>
<div class="bar" style="left:1371.0px;top:187px;width:134.5px;height:817px;background:linear-gradient(to bottom, #0786de 0%, #0290e8 8%, #00a0e4 39%, #02bdf5 63%, #00d8ff 82%, #00e0fc 88.74%, #38e2fb 88.89%, #9aedf8 94.37%, #dcf5f6 100%);box-shadow:0 0 2.5px 1.5px rgba(175,245,255,0.85)"></div>
<div style="position:absolute;left:1463.8px;top:492px;width:24.6px;height:72px;background:rgba(0,40,90,0.035)"></div>
<div style="position:absolute;left:1421px;top:566px;width:26px;height:135px;background:rgba(0,40,90,0.03)"></div>
<svg width="1920" height="1118" viewBox="0 0 1920 1118"><defs><clipPath id="lc"><polygon points="239.4,0 1920,0 1920,1118 676,1118 239.4,763.8"/></clipPath></defs><polyline clip-path="url(#lc)" points="232,765.5 429,685.5 553.5,723.7 764,607.5 897.3,586.8 1100.5,364 1196.5,394.6 1440,184" fill="none" stroke="#0fc540" stroke-width="16.5" stroke-linejoin="miter" stroke-linecap="butt"/></svg>
<div class="pill" style="left:340.4px;width:172.89999999999998px"></div>
<div class="pill" style="left:676.5px;width:174.39999999999998px"></div>
<div class="pill" style="left:1014.6px;width:173.89999999999998px"></div>
<div class="pill" style="left:1352.2px;width:173.39999999999986px"></div>
<svg width="1920" height="1118" viewBox="0 0 1920 1118" style="font-family:&quot;Liberation Sans&quot;, sans-serif"><text x="354.76" y="615.9" font-size="70" font-weight="700" fill="#083a5c" stroke="#083a5c" stroke-width="1.2" textLength="44.56" lengthAdjust="spacingAndGlyphs">7</text><text x="398.87" y="615.9" font-size="70" font-weight="700" fill="#083a5c" stroke="#083a5c" stroke-width="1.2" textLength="40.66" lengthAdjust="spacingAndGlyphs">2</text><text x="437.45" y="615.9" font-size="70" font-weight="700" fill="#083a5c" stroke="#083a5c" stroke-width="1.2" textLength="22.72" lengthAdjust="spacingAndGlyphs">,</text><text x="458.38" y="615.9" font-size="70" font-weight="700" fill="#083a5c" stroke="#083a5c" stroke-width="1.2" textLength="44.85" lengthAdjust="spacingAndGlyphs">4</text><text x="359.24" y="642.0" font-size="18.0" font-weight="700" fill="#0a4266" stroke="#0a4266" stroke-width="1.0" textLength="72.1" lengthAdjust="spacingAndGlyphs">МЛРД</text><text x="360.69" y="662.5" font-size="18.0" font-weight="700" fill="#0a4266" stroke="#0a4266" stroke-width="1.0" textLength="137.79" lengthAdjust="spacingAndGlyphs">ДОЛЛАРОВ</text><text x="692.76" y="490.6" font-size="70" font-weight="700" fill="#083a5c" stroke="#083a5c" stroke-width="1.2" textLength="44.56" lengthAdjust="spacingAndGlyphs">7</text><text x="737.77" y="490.6" font-size="70" font-weight="700" fill="#083a5c" stroke="#083a5c" stroke-width="1.2" textLength="39.38" lengthAdjust="spacingAndGlyphs">3</text><text x="773.45" y="490.6" font-size="70" font-weight="700" fill="#083a5c" stroke="#083a5c" stroke-width="1.2" textLength="22.72" lengthAdjust="spacingAndGlyphs">,</text><text x="796.01" y="490.6" font-size="70" font-weight="700" fill="#083a5c" stroke="#083a5c" stroke-width="1.2" textLength="41.8" lengthAdjust="spacingAndGlyphs">8</text><text x="696.93" y="514.3" font-size="18.0" font-weight="700" fill="#0a4266" stroke="#0a4266" stroke-width="1.0" textLength="72.82" lengthAdjust="spacingAndGlyphs">МЛРД</text><text x="698.39" y="535.2" font-size="18.0" font-weight="700" fill="#0a4266" stroke="#0a4266" stroke-width="1.0" textLength="137.39" lengthAdjust="spacingAndGlyphs">ДОЛЛАРОВ</text><text x="1031.76" y="297.2" font-size="69.2" font-weight="700" fill="#083a5c" stroke="#083a5c" stroke-width="1.2" textLength="42.81" lengthAdjust="spacingAndGlyphs">8</text><text x="1074.84" y="297.2" font-size="69.2" font-weight="700" fill="#083a5c" stroke="#083a5c" stroke-width="1.2" textLength="41.12" lengthAdjust="spacingAndGlyphs">2</text><text x="1113.66" y="297.2" font-size="69.2" font-weight="700" fill="#083a5c" stroke="#083a5c" stroke-width="1.2" textLength="23.5" lengthAdjust="spacingAndGlyphs">,</text><text x="1133.76" y="297.2" font-size="69.2" font-weight="700" fill="#083a5c" stroke="#083a5c" stroke-width="1.2" textLength="42.39" lengthAdjust="spacingAndGlyphs">2</text><text x="1032.63" y="320.5" font-size="18.0" font-weight="700" fill="#0a4266" stroke="#0a4266" stroke-width="1.0" textLength="72.82" lengthAdjust="spacingAndGlyphs">МЛРД</text><text x="1034.09" y="341.4" font-size="18.0" font-weight="700" fill="#0a4266" stroke="#0a4266" stroke-width="1.0" textLength="137.99" lengthAdjust="spacingAndGlyphs">ДОЛЛАРОВ</text><text x="1373.01" y="116.6" font-size="68" font-weight="700" fill="#083a5c" stroke="#083a5c" stroke-width="1.2" textLength="41.91" lengthAdjust="spacingAndGlyphs">8</text><text x="1417.79" y="116.6" font-size="68" font-weight="700" fill="#083a5c" stroke="#083a5c" stroke-width="1.2" textLength="42.25" lengthAdjust="spacingAndGlyphs">8</text><text x="1373.75" y="141.0" font-size="18.0" font-weight="700" fill="#0a4266" stroke="#0a4266" stroke-width="1.0" textLength="71.69" lengthAdjust="spacingAndGlyphs">МЛРД</text><text x="1375.19" y="162.5" font-size="18.0" font-weight="700" fill="#0a4266" stroke="#0a4266" stroke-width="1.0" textLength="136.88" lengthAdjust="spacingAndGlyphs">ДОЛЛАРОВ</text><text x="375.65" y="1044.5" font-size="43.5" font-weight="700" fill="#f4f4f4" textLength="105.85" lengthAdjust="spacingAndGlyphs">2022</text><text x="711.15" y="1044.5" font-size="43.5" font-weight="700" fill="#f4f4f4" textLength="106.18" lengthAdjust="spacingAndGlyphs">2023</text><text x="1049.23" y="1044.5" font-size="43.5" font-weight="700" fill="#f4f4f4" textLength="106.92" lengthAdjust="spacingAndGlyphs">2024</text><text x="1387.36" y="1044.5" font-size="43.5" font-weight="700" fill="#f4f4f4" textLength="105.36" lengthAdjust="spacingAndGlyphs">2025</text></svg>
<div class="frame"></div>
</body></html>
